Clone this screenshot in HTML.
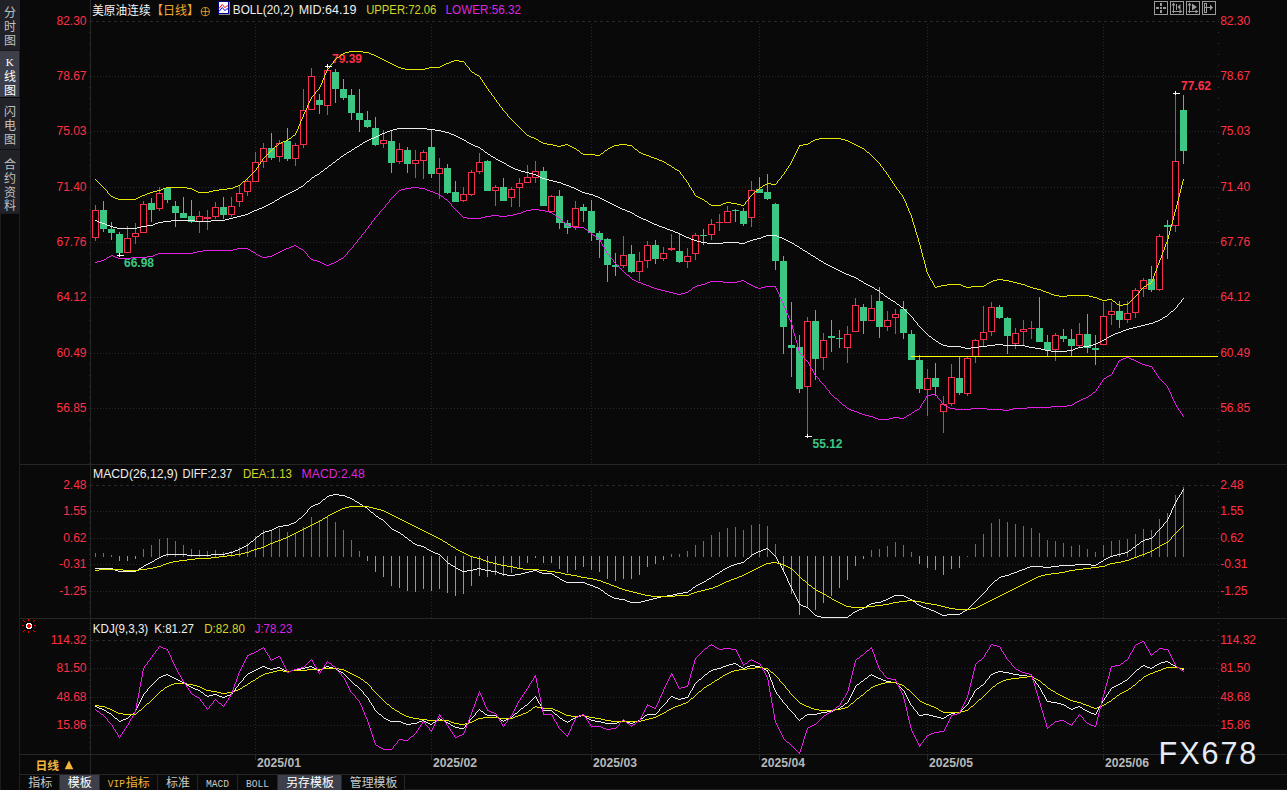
<!DOCTYPE html>
<html><head><meta charset="utf-8"><title>chart</title>
<style>html,body{margin:0;padding:0;background:#090909;}body{width:1287px;height:790px;overflow:hidden;font-family:"Liberation Sans",sans-serif;}svg{display:block;}</style>
</head><body>
<svg width="1287" height="790" viewBox="0 0 1287 790"><rect x="0" y="0" width="1287" height="790" fill="#090909"/>
<g shape-rendering="crispEdges">
<rect x="0" y="0" width="20" height="213" fill="#212228"/>
<rect x="0" y="51" width="19" height="46" fill="#3d3f4b"/>
<rect x="0" y="97" width="20" height="1" fill="#090909"/>
<rect x="0" y="149" width="20" height="1" fill="#121216"/>
<rect x="0" y="50" width="20" height="1" fill="#18181c"/>
<rect x="19" y="213" width="1" height="577" fill="#1e1e1e"/>
<rect x="0" y="213" width="20" height="1" fill="#1c1c1c"/>
<rect x="0" y="214" width="1" height="576" fill="#1c1c1c"/>
<rect x="90" y="0" width="1" height="774" fill="#262626"/>
<rect x="405" y="789" width="882" height="1" fill="#1e1e1e"/>
<rect x="20" y="464" width="1267" height="1" fill="#262626"/>
<rect x="20" y="618" width="1267" height="1" fill="#262626"/>
<rect x="20" y="754" width="1267" height="1" fill="#262626"/>
<rect x="20" y="774" width="1267" height="1" fill="#262626"/>
</g>
<g font-family="Liberation Sans, Noto Sans CJK SC, sans-serif" font-size="12" fill="#c0c0c0" text-anchor="middle">
<text x="10" y="17">分</text>
<text x="10" y="31">时</text>
<text x="10" y="45">图</text>
</g>
<g font-family="Liberation Sans, Noto Sans CJK SC, sans-serif" font-size="12" fill="#ffffff" text-anchor="middle">
<text x="10" y="81">线</text>
<text x="10" y="95">图</text>
</g>
<text x="9.8" y="66" font-family="Liberation Serif, serif" font-size="11" fill="#ffffff" text-anchor="middle">K</text>
<g font-family="Liberation Sans, Noto Sans CJK SC, sans-serif" font-size="12" fill="#c0c0c0" text-anchor="middle">
<text x="10" y="115.5">闪</text>
<text x="10" y="130">电</text>
<text x="10" y="144">图</text>
</g>
<g font-family="Liberation Sans, Noto Sans CJK SC, sans-serif" font-size="12" fill="#c0c0c0" text-anchor="middle">
<text x="10" y="168.5">合</text>
<text x="10" y="182.5">约</text>
<text x="10" y="196.5">资</text>
<text x="10" y="210">料</text>
</g>
<g shape-rendering="crispEdges">
<path d="M90 21.5H1218" stroke="#292929" stroke-dasharray="3 3" fill="none"/>
<path d="M91 76.5H1218" stroke="#292929" stroke-dasharray="1 2" fill="none"/>
<path d="M91 131.5H1218" stroke="#292929" stroke-dasharray="1 2" fill="none"/>
<path d="M91 187.5H1218" stroke="#292929" stroke-dasharray="1 2" fill="none"/>
<path d="M91 242.5H1218" stroke="#292929" stroke-dasharray="1 2" fill="none"/>
<path d="M91 297.5H1218" stroke="#292929" stroke-dasharray="1 2" fill="none"/>
<path d="M91 353.5H1218" stroke="#292929" stroke-dasharray="1 2" fill="none"/>
<path d="M91 408.5H1218" stroke="#292929" stroke-dasharray="1 2" fill="none"/>
<path d="M90 485.5H1218" stroke="#292929" stroke-dasharray="3 3" fill="none"/>
<path d="M91 511.5H1218" stroke="#292929" stroke-dasharray="1 2" fill="none"/>
<path d="M91 538.5H1218" stroke="#292929" stroke-dasharray="1 2" fill="none"/>
<path d="M91 564.5H1218" stroke="#292929" stroke-dasharray="1 2" fill="none"/>
<path d="M91 591.5H1218" stroke="#292929" stroke-dasharray="1 2" fill="none"/>
<path d="M90 640.5H1218" stroke="#292929" stroke-dasharray="3 3" fill="none"/>
<path d="M91 668.5H1218" stroke="#292929" stroke-dasharray="1 2" fill="none"/>
<path d="M91 697.5H1218" stroke="#292929" stroke-dasharray="1 2" fill="none"/>
<path d="M91 725.5H1218" stroke="#292929" stroke-dasharray="1 2" fill="none"/>
<path d="M255.5 24V464" stroke="#292929" stroke-dasharray="1 2" fill="none"/>
<path d="M255.5 488V618" stroke="#292929" stroke-dasharray="1 2" fill="none"/>
<path d="M255.5 643V754" stroke="#292929" stroke-dasharray="1 2" fill="none"/>
<rect x="255" y="754" width="1" height="6" fill="#262626"/>
<path d="M431.5 24V464" stroke="#292929" stroke-dasharray="1 2" fill="none"/>
<path d="M431.5 488V618" stroke="#292929" stroke-dasharray="1 2" fill="none"/>
<path d="M431.5 643V754" stroke="#292929" stroke-dasharray="1 2" fill="none"/>
<rect x="431" y="754" width="1" height="6" fill="#262626"/>
<path d="M591.5 24V464" stroke="#292929" stroke-dasharray="1 2" fill="none"/>
<path d="M591.5 488V618" stroke="#292929" stroke-dasharray="1 2" fill="none"/>
<path d="M591.5 643V754" stroke="#292929" stroke-dasharray="1 2" fill="none"/>
<rect x="591" y="754" width="1" height="6" fill="#262626"/>
<path d="M759.5 24V464" stroke="#292929" stroke-dasharray="1 2" fill="none"/>
<path d="M759.5 488V618" stroke="#292929" stroke-dasharray="1 2" fill="none"/>
<path d="M759.5 643V754" stroke="#292929" stroke-dasharray="1 2" fill="none"/>
<rect x="759" y="754" width="1" height="6" fill="#262626"/>
<path d="M927.5 24V464" stroke="#292929" stroke-dasharray="1 2" fill="none"/>
<path d="M927.5 488V618" stroke="#292929" stroke-dasharray="1 2" fill="none"/>
<path d="M927.5 643V754" stroke="#292929" stroke-dasharray="1 2" fill="none"/>
<rect x="927" y="754" width="1" height="6" fill="#262626"/>
<path d="M1103.5 24V464" stroke="#292929" stroke-dasharray="1 2" fill="none"/>
<path d="M1103.5 488V618" stroke="#292929" stroke-dasharray="1 2" fill="none"/>
<path d="M1103.5 643V754" stroke="#292929" stroke-dasharray="1 2" fill="none"/>
<rect x="1103" y="754" width="1" height="6" fill="#262626"/>
<rect x="1218" y="21" width="1" height="1" fill="#333"/>
<rect x="89" y="21" width="1" height="1" fill="#262626"/>
<rect x="1218" y="32" width="1" height="1" fill="#333"/>
<rect x="89" y="32" width="1" height="1" fill="#262626"/>
<rect x="1218" y="43" width="1" height="1" fill="#333"/>
<rect x="89" y="43" width="1" height="1" fill="#262626"/>
<rect x="1218" y="54" width="1" height="1" fill="#333"/>
<rect x="89" y="54" width="1" height="1" fill="#262626"/>
<rect x="1218" y="65" width="1" height="1" fill="#333"/>
<rect x="89" y="65" width="1" height="1" fill="#262626"/>
<rect x="1218" y="76" width="1" height="1" fill="#333"/>
<rect x="89" y="76" width="1" height="1" fill="#262626"/>
<rect x="1218" y="87" width="1" height="1" fill="#333"/>
<rect x="89" y="87" width="1" height="1" fill="#262626"/>
<rect x="1218" y="98" width="1" height="1" fill="#333"/>
<rect x="89" y="98" width="1" height="1" fill="#262626"/>
<rect x="1218" y="109" width="1" height="1" fill="#333"/>
<rect x="89" y="109" width="1" height="1" fill="#262626"/>
<rect x="1218" y="121" width="1" height="1" fill="#333"/>
<rect x="89" y="121" width="1" height="1" fill="#262626"/>
<rect x="1218" y="132" width="1" height="1" fill="#333"/>
<rect x="89" y="132" width="1" height="1" fill="#262626"/>
<rect x="1218" y="143" width="1" height="1" fill="#333"/>
<rect x="89" y="143" width="1" height="1" fill="#262626"/>
<rect x="1218" y="154" width="1" height="1" fill="#333"/>
<rect x="89" y="154" width="1" height="1" fill="#262626"/>
<rect x="1218" y="165" width="1" height="1" fill="#333"/>
<rect x="89" y="165" width="1" height="1" fill="#262626"/>
<rect x="1218" y="176" width="1" height="1" fill="#333"/>
<rect x="89" y="176" width="1" height="1" fill="#262626"/>
<rect x="1218" y="187" width="1" height="1" fill="#333"/>
<rect x="89" y="187" width="1" height="1" fill="#262626"/>
<rect x="1218" y="198" width="1" height="1" fill="#333"/>
<rect x="89" y="198" width="1" height="1" fill="#262626"/>
<rect x="1218" y="209" width="1" height="1" fill="#333"/>
<rect x="89" y="209" width="1" height="1" fill="#262626"/>
<rect x="1218" y="220" width="1" height="1" fill="#333"/>
<rect x="89" y="220" width="1" height="1" fill="#262626"/>
<rect x="1218" y="231" width="1" height="1" fill="#333"/>
<rect x="89" y="231" width="1" height="1" fill="#262626"/>
<rect x="1218" y="242" width="1" height="1" fill="#333"/>
<rect x="89" y="242" width="1" height="1" fill="#262626"/>
<rect x="1218" y="253" width="1" height="1" fill="#333"/>
<rect x="89" y="253" width="1" height="1" fill="#262626"/>
<rect x="1218" y="264" width="1" height="1" fill="#333"/>
<rect x="89" y="264" width="1" height="1" fill="#262626"/>
<rect x="1218" y="275" width="1" height="1" fill="#333"/>
<rect x="89" y="275" width="1" height="1" fill="#262626"/>
<rect x="1218" y="286" width="1" height="1" fill="#333"/>
<rect x="89" y="286" width="1" height="1" fill="#262626"/>
<rect x="1218" y="297" width="1" height="1" fill="#333"/>
<rect x="89" y="297" width="1" height="1" fill="#262626"/>
<rect x="1218" y="309" width="1" height="1" fill="#333"/>
<rect x="89" y="309" width="1" height="1" fill="#262626"/>
<rect x="1218" y="320" width="1" height="1" fill="#333"/>
<rect x="89" y="320" width="1" height="1" fill="#262626"/>
<rect x="1218" y="331" width="1" height="1" fill="#333"/>
<rect x="89" y="331" width="1" height="1" fill="#262626"/>
<rect x="1218" y="342" width="1" height="1" fill="#333"/>
<rect x="89" y="342" width="1" height="1" fill="#262626"/>
<rect x="1218" y="353" width="1" height="1" fill="#333"/>
<rect x="89" y="353" width="1" height="1" fill="#262626"/>
<rect x="1218" y="364" width="1" height="1" fill="#333"/>
<rect x="89" y="364" width="1" height="1" fill="#262626"/>
<rect x="1218" y="375" width="1" height="1" fill="#333"/>
<rect x="89" y="375" width="1" height="1" fill="#262626"/>
<rect x="1218" y="386" width="1" height="1" fill="#333"/>
<rect x="89" y="386" width="1" height="1" fill="#262626"/>
<rect x="1218" y="397" width="1" height="1" fill="#333"/>
<rect x="89" y="397" width="1" height="1" fill="#262626"/>
<rect x="1218" y="408" width="1" height="1" fill="#333"/>
<rect x="89" y="408" width="1" height="1" fill="#262626"/>
<rect x="1218" y="419" width="1" height="1" fill="#333"/>
<rect x="89" y="419" width="1" height="1" fill="#262626"/>
<rect x="1218" y="430" width="1" height="1" fill="#333"/>
<rect x="89" y="430" width="1" height="1" fill="#262626"/>
<rect x="1218" y="441" width="1" height="1" fill="#333"/>
<rect x="89" y="441" width="1" height="1" fill="#262626"/>
<rect x="1218" y="452" width="1" height="1" fill="#333"/>
<rect x="89" y="452" width="1" height="1" fill="#262626"/>
<rect x="1218" y="463" width="1" height="1" fill="#333"/>
<rect x="89" y="463" width="1" height="1" fill="#262626"/>
<rect x="1218" y="485" width="1" height="1" fill="#333"/>
<rect x="89" y="485" width="1" height="1" fill="#262626"/>
<rect x="1218" y="491" width="1" height="1" fill="#333"/>
<rect x="89" y="491" width="1" height="1" fill="#262626"/>
<rect x="1218" y="496" width="1" height="1" fill="#333"/>
<rect x="89" y="496" width="1" height="1" fill="#262626"/>
<rect x="1218" y="501" width="1" height="1" fill="#333"/>
<rect x="89" y="501" width="1" height="1" fill="#262626"/>
<rect x="1218" y="507" width="1" height="1" fill="#333"/>
<rect x="89" y="507" width="1" height="1" fill="#262626"/>
<rect x="1218" y="512" width="1" height="1" fill="#333"/>
<rect x="89" y="512" width="1" height="1" fill="#262626"/>
<rect x="1218" y="517" width="1" height="1" fill="#333"/>
<rect x="89" y="517" width="1" height="1" fill="#262626"/>
<rect x="1218" y="522" width="1" height="1" fill="#333"/>
<rect x="89" y="522" width="1" height="1" fill="#262626"/>
<rect x="1218" y="528" width="1" height="1" fill="#333"/>
<rect x="89" y="528" width="1" height="1" fill="#262626"/>
<rect x="1218" y="533" width="1" height="1" fill="#333"/>
<rect x="89" y="533" width="1" height="1" fill="#262626"/>
<rect x="1218" y="538" width="1" height="1" fill="#333"/>
<rect x="89" y="538" width="1" height="1" fill="#262626"/>
<rect x="1218" y="544" width="1" height="1" fill="#333"/>
<rect x="89" y="544" width="1" height="1" fill="#262626"/>
<rect x="1218" y="549" width="1" height="1" fill="#333"/>
<rect x="89" y="549" width="1" height="1" fill="#262626"/>
<rect x="1218" y="554" width="1" height="1" fill="#333"/>
<rect x="89" y="554" width="1" height="1" fill="#262626"/>
<rect x="1218" y="559" width="1" height="1" fill="#333"/>
<rect x="89" y="559" width="1" height="1" fill="#262626"/>
<rect x="1218" y="565" width="1" height="1" fill="#333"/>
<rect x="89" y="565" width="1" height="1" fill="#262626"/>
<rect x="1218" y="570" width="1" height="1" fill="#333"/>
<rect x="89" y="570" width="1" height="1" fill="#262626"/>
<rect x="1218" y="575" width="1" height="1" fill="#333"/>
<rect x="89" y="575" width="1" height="1" fill="#262626"/>
<rect x="1218" y="581" width="1" height="1" fill="#333"/>
<rect x="89" y="581" width="1" height="1" fill="#262626"/>
<rect x="1218" y="586" width="1" height="1" fill="#333"/>
<rect x="89" y="586" width="1" height="1" fill="#262626"/>
<rect x="1218" y="591" width="1" height="1" fill="#333"/>
<rect x="89" y="591" width="1" height="1" fill="#262626"/>
<rect x="1218" y="596" width="1" height="1" fill="#333"/>
<rect x="89" y="596" width="1" height="1" fill="#262626"/>
<rect x="1218" y="602" width="1" height="1" fill="#333"/>
<rect x="89" y="602" width="1" height="1" fill="#262626"/>
<rect x="1218" y="607" width="1" height="1" fill="#333"/>
<rect x="89" y="607" width="1" height="1" fill="#262626"/>
<rect x="1218" y="612" width="1" height="1" fill="#333"/>
<rect x="89" y="612" width="1" height="1" fill="#262626"/>
<rect x="1218" y="623" width="1" height="1" fill="#333"/>
<rect x="89" y="623" width="1" height="1" fill="#262626"/>
<rect x="1218" y="629" width="1" height="1" fill="#333"/>
<rect x="89" y="629" width="1" height="1" fill="#262626"/>
<rect x="1218" y="635" width="1" height="1" fill="#333"/>
<rect x="89" y="635" width="1" height="1" fill="#262626"/>
<rect x="1218" y="640" width="1" height="1" fill="#333"/>
<rect x="89" y="640" width="1" height="1" fill="#262626"/>
<rect x="1218" y="646" width="1" height="1" fill="#333"/>
<rect x="89" y="646" width="1" height="1" fill="#262626"/>
<rect x="1218" y="652" width="1" height="1" fill="#333"/>
<rect x="89" y="652" width="1" height="1" fill="#262626"/>
<rect x="1218" y="657" width="1" height="1" fill="#333"/>
<rect x="89" y="657" width="1" height="1" fill="#262626"/>
<rect x="1218" y="663" width="1" height="1" fill="#333"/>
<rect x="89" y="663" width="1" height="1" fill="#262626"/>
<rect x="1218" y="669" width="1" height="1" fill="#333"/>
<rect x="89" y="669" width="1" height="1" fill="#262626"/>
<rect x="1218" y="674" width="1" height="1" fill="#333"/>
<rect x="89" y="674" width="1" height="1" fill="#262626"/>
<rect x="1218" y="680" width="1" height="1" fill="#333"/>
<rect x="89" y="680" width="1" height="1" fill="#262626"/>
<rect x="1218" y="686" width="1" height="1" fill="#333"/>
<rect x="89" y="686" width="1" height="1" fill="#262626"/>
<rect x="1218" y="691" width="1" height="1" fill="#333"/>
<rect x="89" y="691" width="1" height="1" fill="#262626"/>
<rect x="1218" y="697" width="1" height="1" fill="#333"/>
<rect x="89" y="697" width="1" height="1" fill="#262626"/>
<rect x="1218" y="703" width="1" height="1" fill="#333"/>
<rect x="89" y="703" width="1" height="1" fill="#262626"/>
<rect x="1218" y="708" width="1" height="1" fill="#333"/>
<rect x="89" y="708" width="1" height="1" fill="#262626"/>
<rect x="1218" y="714" width="1" height="1" fill="#333"/>
<rect x="89" y="714" width="1" height="1" fill="#262626"/>
<rect x="1218" y="720" width="1" height="1" fill="#333"/>
<rect x="89" y="720" width="1" height="1" fill="#262626"/>
<rect x="1218" y="725" width="1" height="1" fill="#333"/>
<rect x="89" y="725" width="1" height="1" fill="#262626"/>
<rect x="1218" y="731" width="1" height="1" fill="#333"/>
<rect x="89" y="731" width="1" height="1" fill="#262626"/>
<rect x="1218" y="737" width="1" height="1" fill="#333"/>
<rect x="89" y="737" width="1" height="1" fill="#262626"/>
<rect x="1218" y="742" width="1" height="1" fill="#333"/>
<rect x="89" y="742" width="1" height="1" fill="#262626"/>
<rect x="1218" y="748" width="1" height="1" fill="#333"/>
<rect x="89" y="748" width="1" height="1" fill="#262626"/>
</g>
<g font-family="Liberation Sans, sans-serif" font-size="12" fill="#ff3046">
<text x="86.5" y="24.7" text-anchor="end">82.30</text>
<text x="1220.2" y="24.7">82.30</text>
<text x="86.5" y="79.7" text-anchor="end">78.67</text>
<text x="1220.2" y="79.7">78.67</text>
<text x="86.5" y="134.7" text-anchor="end">75.03</text>
<text x="1220.2" y="134.7">75.03</text>
<text x="86.5" y="190.7" text-anchor="end">71.40</text>
<text x="1220.2" y="190.7">71.40</text>
<text x="86.5" y="245.7" text-anchor="end">67.76</text>
<text x="1220.2" y="245.7">67.76</text>
<text x="86.5" y="300.7" text-anchor="end">64.12</text>
<text x="1220.2" y="300.7">64.12</text>
<text x="86.5" y="356.7" text-anchor="end">60.49</text>
<text x="1220.2" y="356.7">60.49</text>
<text x="86.5" y="411.7" text-anchor="end">56.85</text>
<text x="1220.2" y="411.7">56.85</text>
<text x="86.5" y="488.7" text-anchor="end">2.48</text>
<text x="1220.2" y="488.7">2.48</text>
<text x="86.5" y="514.7" text-anchor="end">1.55</text>
<text x="1220.2" y="514.7">1.55</text>
<text x="86.5" y="541.7" text-anchor="end">0.62</text>
<text x="1220.2" y="541.7">0.62</text>
<text x="86.5" y="567.7" text-anchor="end">-0.31</text>
<text x="1220.2" y="567.7">-0.31</text>
<text x="86.5" y="594.7" text-anchor="end">-1.25</text>
<text x="1220.2" y="594.7">-1.25</text>
<text x="86.5" y="643.7" text-anchor="end">114.32</text>
<text x="1220.2" y="643.7">114.32</text>
<text x="86.5" y="671.7" text-anchor="end">81.50</text>
<text x="1220.2" y="671.7">81.50</text>
<text x="86.5" y="700.7" text-anchor="end">48.68</text>
<text x="1220.2" y="700.7">48.68</text>
<text x="86.5" y="728.7" text-anchor="end">15.86</text>
<text x="1220.2" y="728.7">15.86</text>
</g>
<g shape-rendering="crispEdges">
<path d="M95 205h1v36h-1zM127 226h1v27h-1zM135 223h1v21h-1zM143 201h1v32h-1zM159 187h1v24h-1zM199 211h1v22h-1zM207 210h1v20h-1zM215 202h1v17h-1zM231 197h1v20h-1zM239 186h1v21h-1zM247 178h1v18h-1zM255 152h1v30h-1zM263 143h1v25h-1zM279 140h1v22h-1zM295 143h1v23h-1zM303 89h1v59h-1zM311 68h1v42h-1zM327 66h1v49h-1zM383 130h1v18h-1zM399 143h1v21h-1zM415 150h1v28h-1zM423 150h1v29h-1zM439 158h1v41h-1zM463 187h1v15h-1zM471 170h1v26h-1zM479 153h1v21h-1zM495 185h1v21h-1zM511 187h1v20h-1zM519 178h1v29h-1zM527 165h1v18h-1zM535 161h1v22h-1zM551 195h1v17h-1zM575 201h1v29h-1zM623 236h1v32h-1zM639 252h1v29h-1zM647 241h1v27h-1zM663 247h1v14h-1zM671 234h1v17h-1zM687 248h1v20h-1zM695 233h1v27h-1zM711 219h1v21h-1zM719 214h1v17h-1zM727 206h1v17h-1zM751 181h1v46h-1zM807 317h1v119h-1zM823 333h1v37h-1zM847 326h1v37h-1zM855 298h1v34h-1zM871 295h1v26h-1zM887 311h1v20h-1zM895 309h1v25h-1zM927 369h1v47h-1zM943 396h1v37h-1zM951 364h1v42h-1zM967 357h1v39h-1zM975 339h1v24h-1zM983 306h1v40h-1zM991 302h1v34h-1zM1015 328h1v21h-1zM1023 320h1v26h-1zM1031 321h1v18h-1zM1055 333h1v28h-1zM1079 323h1v24h-1zM1103 302h1v43h-1zM1111 302h1v23h-1zM1127 301h1v22h-1zM1135 288h1v30h-1zM1143 278h1v19h-1zM1159 234h1v57h-1zM1175 93h1v139h-1z" fill="#f5304e"/>
<path d="M103 201h1v31h-1zM111 222h1v18h-1zM119 232h1v22h-1zM151 198h1v24h-1zM167 187h1v16h-1zM175 201h1v26h-1zM183 197h1v21h-1zM191 200h1v23h-1zM223 197h1v22h-1zM271 133h1v27h-1zM287 128h1v33h-1zM319 94h1v20h-1zM335 69h1v34h-1zM343 79h1v21h-1zM351 89h1v31h-1zM359 89h1v43h-1zM367 111h1v17h-1zM375 117h1v29h-1zM391 130h1v43h-1zM407 147h1v26h-1zM431 130h1v48h-1zM447 164h1v30h-1zM455 181h1v21h-1zM487 160h1v31h-1zM503 178h1v23h-1zM543 167h1v39h-1zM559 190h1v39h-1zM567 220h1v14h-1zM583 204h1v18h-1zM591 200h1v41h-1zM599 231h1v27h-1zM607 238h1v44h-1zM615 253h1v23h-1zM631 245h1v28h-1zM655 240h1v24h-1zM679 233h1v30h-1zM703 229h1v16h-1zM735 209h1v13h-1zM743 208h1v18h-1zM759 177h1v16h-1zM767 174h1v26h-1zM775 203h1v67h-1zM783 256h1v98h-1zM791 302h1v75h-1zM799 335h1v58h-1zM815 310h1v70h-1zM831 320h1v32h-1zM839 330h1v18h-1zM863 304h1v30h-1zM879 287h1v51h-1zM903 301h1v38h-1zM911 330h1v30h-1zM919 355h1v38h-1zM935 363h1v33h-1zM959 357h1v38h-1zM999 305h1v14h-1zM1007 317h1v37h-1zM1039 297h1v45h-1zM1047 335h1v21h-1zM1063 329h1v13h-1zM1071 329h1v27h-1zM1087 314h1v39h-1zM1095 335h1v30h-1zM1119 301h1v27h-1zM1151 266h1v26h-1zM1167 220h1v39h-1zM1183 95h1v69h-1z" fill="#3cc884"/>
<path d="M92 210h7v28h-7zM124 238h7v15h-7zM132 233h7v4h-7zM140 204h7v29h-7zM156 193h7v16h-7zM196 216h7v6h-7zM204 217h7v2h-7zM212 207h7v10h-7zM228 206h7v9h-7zM236 193h7v9h-7zM244 181h7v11h-7zM252 162h7v20h-7zM260 148h7v14h-7zM276 143h7v14h-7zM292 145h7v14h-7zM300 110h7v35h-7zM308 76h7v34h-7zM324 70h7v36h-7zM380 140h7v4h-7zM396 149h7v13h-7zM412 160h7v4h-7zM420 152h7v9h-7zM436 168h7v6h-7zM460 194h7v7h-7zM468 172h7v23h-7zM476 162h7v10h-7zM492 187h7v4h-7zM508 189h7v9h-7zM516 183h7v5h-7zM524 177h7v6h-7zM532 171h7v7h-7zM548 196h7v16h-7zM572 208h7v19h-7zM620 255h7v11h-7zM636 261h7v11h-7zM644 245h7v16h-7zM660 253h7v6h-7zM668 248h7v2h-7zM684 256h7v6h-7zM692 235h7v19h-7zM708 224h7v11h-7zM716 222h7v1h-7zM724 211h7v12h-7zM748 190h7v28h-7zM804 321h7v66h-7zM820 340h7v18h-7zM844 334h7v14h-7zM852 305h7v27h-7zM868 308h7v13h-7zM884 320h7v7h-7zM892 314h7v4h-7zM924 378h7v12h-7zM940 404h7v8h-7zM948 377h7v27h-7zM964 358h7v36h-7zM972 340h7v17h-7zM980 332h7v8h-7zM988 307h7v25h-7zM1012 333h7v11h-7zM1020 329h7v3h-7zM1028 328h7v1h-7zM1052 335h7v15h-7zM1076 334h7v12h-7zM1100 316h7v29h-7zM1108 311h7v4h-7zM1124 313h7v7h-7zM1132 290h7v23h-7zM1140 280h7v9h-7zM1156 236h7v54h-7zM1172 161h7v65h-7z" fill="#f5304e"/>
<path d="M93 211h5v26h-5zM125 239h5v13h-5zM133 234h5v2h-5zM141 205h5v27h-5zM157 194h5v14h-5zM197 217h5v4h-5zM213 208h5v8h-5zM229 207h5v7h-5zM237 194h5v7h-5zM245 182h5v9h-5zM253 163h5v18h-5zM261 149h5v12h-5zM277 144h5v12h-5zM293 146h5v12h-5zM301 111h5v33h-5zM309 77h5v32h-5zM325 71h5v34h-5zM381 141h5v2h-5zM397 150h5v11h-5zM413 161h5v2h-5zM421 153h5v7h-5zM437 169h5v4h-5zM461 195h5v5h-5zM469 173h5v21h-5zM477 163h5v8h-5zM493 188h5v2h-5zM509 190h5v7h-5zM517 184h5v3h-5zM525 178h5v4h-5zM533 172h5v5h-5zM549 197h5v14h-5zM573 209h5v17h-5zM621 256h5v9h-5zM637 262h5v9h-5zM645 246h5v14h-5zM661 254h5v4h-5zM685 257h5v4h-5zM693 236h5v17h-5zM709 225h5v9h-5zM725 212h5v10h-5zM749 191h5v26h-5zM805 322h5v64h-5zM821 341h5v16h-5zM845 335h5v12h-5zM853 306h5v25h-5zM869 309h5v11h-5zM885 321h5v5h-5zM893 315h5v2h-5zM925 379h5v10h-5zM941 405h5v6h-5zM949 378h5v25h-5zM965 359h5v34h-5zM973 341h5v15h-5zM981 333h5v6h-5zM989 308h5v23h-5zM1013 334h5v9h-5zM1021 330h5v1h-5zM1053 336h5v13h-5zM1077 335h5v10h-5zM1101 317h5v27h-5zM1109 312h5v2h-5zM1125 314h5v5h-5zM1133 291h5v21h-5zM1141 281h5v7h-5zM1157 237h5v52h-5zM1173 162h5v63h-5z" fill="#000"/>
<path d="M100 210h7v19h-7zM108 229h7v4h-7zM116 234h7v19h-7zM148 203h7v7h-7zM164 188h7v12h-7zM172 206h7v7h-7zM180 213h7v5h-7zM188 216h7v6h-7zM220 207h7v8h-7zM268 148h7v10h-7zM284 141h7v18h-7zM316 100h7v5h-7zM332 72h7v17h-7zM340 89h7v9h-7zM348 95h7v18h-7zM356 113h7v7h-7zM364 120h7v7h-7zM372 128h7v17h-7zM388 141h7v22h-7zM404 150h7v14h-7zM428 147h7v27h-7zM444 168h7v25h-7zM452 192h7v10h-7zM484 161h7v30h-7zM500 187h7v14h-7zM540 171h7v35h-7zM556 196h7v27h-7zM564 223h7v5h-7zM580 207h7v4h-7zM588 211h7v22h-7zM596 233h7v7h-7zM604 239h7v26h-7zM612 265h7v2h-7zM628 254h7v18h-7zM652 245h7v14h-7zM676 251h7v11h-7zM700 235h7v1h-7zM732 210h7v1h-7zM740 211h7v13h-7zM756 189h7v4h-7zM764 192h7v7h-7zM772 204h7v57h-7zM780 261h7v66h-7zM788 345h7v3h-7zM796 347h7v42h-7zM812 321h7v38h-7zM828 336h7v2h-7zM836 338h7v1h-7zM860 307h7v14h-7zM876 301h7v26h-7zM900 309h7v24h-7zM908 334h7v26h-7zM916 360h7v29h-7zM932 378h7v9h-7zM956 378h7v15h-7zM996 307h7v11h-7zM1004 318h7v18h-7zM1036 328h7v14h-7zM1044 342h7v8h-7zM1060 336h7v3h-7zM1068 339h7v7h-7zM1084 334h7v14h-7zM1092 348h7v2h-7zM1116 311h7v9h-7zM1148 279h7v11h-7zM1164 225h7v2h-7zM1180 110h7v41h-7z" fill="#3cc884"/>
<path d="M95 553h1v4h-1zM103 553h1v4h-1zM111 555h1v2h-1zM143 549h1v8h-1zM151 545h1v12h-1zM159 539h1v18h-1zM167 538h1v19h-1zM175 541h1v16h-1zM183 545h1v12h-1zM191 549h1v8h-1zM199 550h1v7h-1zM207 551h1v6h-1zM215 550h1v7h-1zM223 552h1v5h-1zM231 551h1v6h-1zM239 547h1v10h-1zM247 543h1v14h-1zM255 536h1v21h-1zM263 530h1v27h-1zM271 530h1v27h-1zM279 528h1v29h-1zM287 532h1v25h-1zM295 533h1v24h-1zM303 527h1v30h-1zM311 517h1v40h-1zM319 520h1v37h-1zM327 517h1v40h-1zM335 522h1v35h-1zM343 530h1v27h-1zM351 540h1v17h-1zM359 551h1v6h-1zM671 554h1v3h-1zM679 554h1v3h-1zM687 551h1v6h-1zM695 545h1v12h-1zM703 541h1v16h-1zM711 535h1v22h-1zM719 532h1v25h-1zM727 528h1v29h-1zM735 527h1v30h-1zM743 530h1v27h-1zM751 525h1v32h-1zM759 524h1v33h-1zM767 526h1v31h-1zM775 544h1v13h-1zM871 550h1v7h-1zM879 549h1v8h-1zM887 546h1v11h-1zM895 542h1v15h-1zM903 545h1v12h-1zM911 552h1v5h-1zM967 556h1v1h-1zM975 544h1v13h-1zM983 534h1v23h-1zM991 523h1v34h-1zM999 519h1v38h-1zM1007 522h1v35h-1zM1015 524h1v33h-1zM1023 526h1v31h-1zM1031 528h1v29h-1zM1039 533h1v24h-1zM1047 540h1v17h-1zM1055 541h1v16h-1zM1063 543h1v14h-1zM1071 546h1v11h-1zM1079 545h1v12h-1zM1087 549h1v8h-1zM1095 552h1v5h-1zM1103 545h1v12h-1zM1111 541h1v16h-1zM1119 540h1v17h-1zM1127 539h1v18h-1zM1135 534h1v23h-1zM1143 529h1v28h-1zM1151 530h1v27h-1zM1159 519h1v38h-1zM1167 513h1v44h-1zM1175 495h1v62h-1zM1183 487h1v70h-1z" fill="#f5304e"/>
<path d="M119 556h1v5h-1zM127 556h1v5h-1zM135 556h1v3h-1zM367 556h1v5h-1zM375 556h1v16h-1zM383 556h1v21h-1zM391 556h1v30h-1zM399 556h1v32h-1zM407 556h1v35h-1zM415 556h1v36h-1zM423 556h1v33h-1zM431 556h1v35h-1zM439 556h1v33h-1zM447 556h1v37h-1zM455 556h1v40h-1zM463 556h1v38h-1zM471 556h1v30h-1zM479 556h1v20h-1zM487 556h1v21h-1zM495 556h1v19h-1zM503 556h1v20h-1zM511 556h1v17h-1zM519 556h1v12h-1zM527 556h1v7h-1zM535 556h1v2h-1zM543 556h1v7h-1zM551 556h1v7h-1zM559 556h1v13h-1zM567 556h1v17h-1zM575 556h1v14h-1zM583 556h1v11h-1zM591 556h1v14h-1zM599 556h1v16h-1zM607 556h1v23h-1zM615 556h1v25h-1zM623 556h1v23h-1zM631 556h1v23h-1zM639 556h1v19h-1zM647 556h1v11h-1zM655 556h1v8h-1zM663 556h1v4h-1zM783 556h1v16h-1zM791 556h1v38h-1zM799 556h1v59h-1zM807 556h1v52h-1zM815 556h1v54h-1zM823 556h1v47h-1zM831 556h1v40h-1zM839 556h1v32h-1zM847 556h1v24h-1zM855 556h1v10h-1zM863 556h1v3h-1zM919 556h1v8h-1zM927 556h1v12h-1zM935 556h1v14h-1zM943 556h1v19h-1zM951 556h1v13h-1zM959 556h1v12h-1z" fill="#3cc884"/>
</g>
<g font-family="Liberation Sans, sans-serif" font-size="12" font-weight="bold">
<text x="124" y="267" fill="#3cc884">66.98</text>
<text x="332" y="63" fill="#ff3046">79.39</text>
<text x="812.5" y="448" fill="#3cc884">55.12</text>
<text x="1181" y="90" fill="#ff3046">77.62</text>
</g>
<g shape-rendering="crispEdges">
<path d="M913 318h1v2h-1zM917 323h1v2h-1zM1177 305h1v2h-1zM1181 300h1v2h-1zM95 220h2v1h-2zM171 220h24v1h-24zM211 220h14v1h-14zM646 220h2v1h-2zM97 221h2v1h-2zM163 221h8v1h-8zM195 221h16v1h-16zM648 221h2v1h-2zM99 222h3v1h-3zM158 222h5v1h-5zM650 222h2v1h-2zM102 223h3v1h-3zM155 223h3v1h-3zM652 223h2v1h-2zM105 224h2v1h-2zM153 224h2v1h-2zM654 224h3v1h-3zM107 225h3v1h-3zM147 225h6v1h-6zM657 225h2v1h-2zM110 226h3v1h-3zM141 226h6v1h-6zM659 226h3v1h-3zM113 227h4v1h-4zM137 227h4v1h-4zM662 227h3v1h-3zM117 228h20v1h-20zM665 228h2v1h-2zM225 219h4v1h-4zM643 219h3v1h-3zM229 218h4v1h-4zM641 218h2v1h-2zM233 217h4v1h-4zM639 217h2v1h-2zM237 216h4v1h-4zM637 216h2v1h-2zM241 215h4v1h-4zM635 215h2v1h-2zM245 214h3v1h-3zM634 214h1v1h-1zM248 213h2v1h-2zM632 213h2v1h-2zM250 212h2v1h-2zM630 212h2v1h-2zM252 211h2v1h-2zM627 211h3v1h-3zM254 210h3v1h-3zM625 210h2v1h-2zM257 209h2v1h-2zM622 209h3v1h-3zM259 208h3v1h-3zM620 208h2v1h-2zM262 207h2v1h-2zM618 207h2v1h-2zM264 206h2v1h-2zM616 206h2v1h-2zM266 205h2v1h-2zM614 205h2v1h-2zM268 204h2v1h-2zM612 204h2v1h-2zM270 203h2v1h-2zM610 203h2v1h-2zM272 202h2v1h-2zM608 202h2v1h-2zM274 201h1v1h-1zM606 201h2v1h-2zM275 200h2v1h-2zM604 200h2v1h-2zM277 199h2v1h-2zM602 199h2v1h-2zM279 198h1v1h-1zM600 198h2v1h-2zM280 197h2v1h-2zM598 197h2v1h-2zM282 196h2v1h-2zM595 196h3v1h-3zM284 195h2v1h-2zM593 195h2v1h-2zM286 194h2v1h-2zM589 194h4v1h-4zM288 193h2v1h-2zM585 193h4v1h-4zM290 192h2v1h-2zM582 192h3v1h-3zM292 191h2v1h-2zM580 191h2v1h-2zM294 190h2v1h-2zM578 190h2v1h-2zM296 189h2v1h-2zM576 189h2v1h-2zM298 188h1v1h-1zM574 188h2v1h-2zM299 187h2v1h-2zM571 187h3v1h-3zM301 186h2v1h-2zM569 186h2v1h-2zM303 185h1v1h-1zM566 185h3v1h-3zM304 184h1v1h-1zM563 184h3v1h-3zM305 183h1v1h-1zM561 183h2v1h-2zM306 182h1v1h-1zM557 182h4v1h-4zM307 181h2v1h-2zM553 181h4v1h-4zM309 180h1v1h-1zM549 180h4v1h-4zM310 179h1v1h-1zM545 179h4v1h-4zM311 178h1v1h-1zM542 178h3v1h-3zM312 177h2v1h-2zM540 177h2v1h-2zM314 176h1v1h-1zM538 176h2v1h-2zM315 175h2v1h-2zM536 175h2v1h-2zM317 174h2v1h-2zM533 174h3v1h-3zM319 173h1v1h-1zM529 173h4v1h-4zM320 172h1v1h-1zM525 172h4v1h-4zM321 171h2v1h-2zM521 171h4v1h-4zM323 170h1v1h-1zM518 170h3v1h-3zM324 169h1v1h-1zM515 169h3v1h-3zM325 168h2v1h-2zM513 168h2v1h-2zM327 167h1v1h-1zM511 167h2v1h-2zM328 166h1v1h-1zM509 166h2v1h-2zM329 165h2v1h-2zM507 165h2v1h-2zM331 164h1v1h-1zM506 164h1v1h-1zM332 163h1v1h-1zM504 163h2v1h-2zM333 162h2v1h-2zM502 162h2v1h-2zM335 161h1v1h-1zM500 161h2v1h-2zM336 160h1v1h-1zM498 160h2v1h-2zM337 159h2v1h-2zM496 159h2v1h-2zM339 158h1v1h-1zM495 158h1v1h-1zM340 157h1v1h-1zM493 157h2v1h-2zM341 156h2v1h-2zM491 156h2v1h-2zM343 155h1v1h-1zM490 155h1v1h-1zM344 154h2v1h-2zM488 154h2v1h-2zM346 153h1v1h-1zM487 153h1v1h-1zM347 152h2v1h-2zM485 152h2v1h-2zM349 151h2v1h-2zM484 151h1v1h-1zM351 150h1v1h-1zM483 150h1v1h-1zM352 149h2v1h-2zM481 149h2v1h-2zM354 148h1v1h-1zM480 148h1v1h-1zM355 147h2v1h-2zM478 147h2v1h-2zM357 146h2v1h-2zM475 146h3v1h-3zM359 145h1v1h-1zM473 145h2v1h-2zM360 144h2v1h-2zM471 144h2v1h-2zM362 143h1v1h-1zM469 143h2v1h-2zM363 142h2v1h-2zM467 142h2v1h-2zM365 141h2v1h-2zM466 141h1v1h-1zM367 140h2v1h-2zM464 140h2v1h-2zM369 139h2v1h-2zM462 139h2v1h-2zM371 138h3v1h-3zM460 138h2v1h-2zM374 137h2v1h-2zM458 137h2v1h-2zM376 136h2v1h-2zM456 136h2v1h-2zM378 135h2v1h-2zM454 135h2v1h-2zM380 134h2v1h-2zM451 134h3v1h-3zM382 133h3v1h-3zM449 133h2v1h-2zM385 132h2v1h-2zM445 132h4v1h-4zM387 131h3v1h-3zM441 131h4v1h-4zM390 130h3v1h-3zM435 130h6v1h-6zM393 129h4v1h-4zM427 129h8v1h-8zM397 128h30v1h-30zM667 229h3v1h-3zM670 230h3v1h-3zM673 231h2v1h-2zM675 232h3v1h-3zM678 233h2v1h-2zM680 234h2v1h-2zM682 235h2v1h-2zM766 235h11v1h-11zM684 236h2v1h-2zM763 236h3v1h-3zM777 236h2v1h-2zM686 237h3v1h-3zM761 237h2v1h-2zM779 237h3v1h-3zM689 238h2v1h-2zM757 238h4v1h-4zM782 238h2v1h-2zM691 239h3v1h-3zM753 239h4v1h-4zM784 239h2v1h-2zM694 240h3v1h-3zM750 240h3v1h-3zM786 240h2v1h-2zM697 241h4v1h-4zM747 241h3v1h-3zM788 241h2v1h-2zM701 242h6v1h-6zM723 242h16v1h-16zM745 242h2v1h-2zM790 242h2v1h-2zM707 243h16v1h-16zM739 243h6v1h-6zM792 243h2v1h-2zM794 244h1v1h-1zM795 245h2v1h-2zM797 246h2v1h-2zM799 247h1v1h-1zM800 248h2v1h-2zM802 249h1v1h-1zM803 250h2v1h-2zM805 251h2v1h-2zM807 252h1v1h-1zM808 253h2v1h-2zM810 254h1v1h-1zM811 255h2v1h-2zM813 256h2v1h-2zM815 257h1v1h-1zM816 258h2v1h-2zM818 259h1v1h-1zM819 260h2v1h-2zM821 261h2v1h-2zM823 262h1v1h-1zM824 263h2v1h-2zM826 264h2v1h-2zM828 265h2v1h-2zM830 266h2v1h-2zM832 267h2v1h-2zM834 268h2v1h-2zM836 269h2v1h-2zM838 270h2v1h-2zM840 271h2v1h-2zM842 272h2v1h-2zM844 273h2v1h-2zM846 274h3v1h-3zM849 275h2v1h-2zM851 276h3v1h-3zM854 277h2v1h-2zM856 278h2v1h-2zM858 279h1v1h-1zM859 280h2v1h-2zM861 281h2v1h-2zM863 282h1v1h-1zM864 283h2v1h-2zM866 284h2v1h-2zM868 285h2v1h-2zM870 286h2v1h-2zM872 287h2v1h-2zM874 288h1v1h-1zM875 289h2v1h-2zM877 290h2v1h-2zM879 291h1v1h-1zM880 292h1v1h-1zM881 293h2v1h-2zM883 294h1v1h-1zM884 295h1v1h-1zM885 296h2v1h-2zM887 297h1v1h-1zM888 298h2v1h-2zM1183 298h1v1h-1zM890 299h1v1h-1zM1182 299h1v1h-1zM891 300h2v1h-2zM893 301h2v1h-2zM895 302h1v1h-1zM1180 302h1v1h-1zM896 303h1v1h-1zM1179 303h1v1h-1zM897 304h2v1h-2zM1178 304h1v1h-1zM899 305h1v1h-1zM900 306h1v1h-1zM901 307h2v1h-2zM1176 307h1v1h-1zM903 308h1v1h-1zM1175 308h1v1h-1zM904 309h1v1h-1zM1174 309h1v1h-1zM905 310h1v1h-1zM1173 310h1v1h-1zM906 311h1v1h-1zM1171 311h2v1h-2zM907 312h1v1h-1zM1170 312h1v1h-1zM908 313h1v1h-1zM1169 313h1v1h-1zM909 314h1v1h-1zM1168 314h1v1h-1zM910 315h1v1h-1zM1167 315h1v1h-1zM911 316h1v1h-1zM1165 316h2v1h-2zM912 317h1v1h-1zM1163 317h2v1h-2zM914 320h1v1h-1zM1158 320h2v1h-2zM915 321h1v1h-1zM1155 321h3v1h-3zM916 322h1v1h-1zM1153 322h2v1h-2zM918 325h1v1h-1zM1141 325h4v1h-4zM919 326h1v1h-1zM1137 326h4v1h-4zM920 327h1v1h-1zM1133 327h4v1h-4zM921 328h1v1h-1zM1129 328h4v1h-4zM922 329h1v1h-1zM1126 329h3v1h-3zM923 330h1v1h-1zM1123 330h3v1h-3zM924 331h1v1h-1zM1121 331h2v1h-2zM925 332h1v1h-1zM1118 332h3v1h-3zM926 333h1v1h-1zM1115 333h3v1h-3zM927 334h1v1h-1zM1113 334h2v1h-2zM928 335h1v1h-1zM1111 335h2v1h-2zM929 336h2v1h-2zM1109 336h2v1h-2zM931 337h1v1h-1zM1107 337h2v1h-2zM932 338h1v1h-1zM1106 338h1v1h-1zM933 339h2v1h-2zM1104 339h2v1h-2zM935 340h1v1h-1zM1102 340h2v1h-2zM936 341h2v1h-2zM1100 341h2v1h-2zM938 342h1v1h-1zM1098 342h2v1h-2zM939 343h2v1h-2zM1096 343h2v1h-2zM941 344h2v1h-2zM995 344h8v1h-8zM1093 344h3v1h-3zM943 345h4v1h-4zM987 345h8v1h-8zM1003 345h22v1h-22zM1089 345h4v1h-4zM947 346h14v1h-14zM979 346h8v1h-8zM1025 346h4v1h-4zM1083 346h6v1h-6zM961 347h4v1h-4zM971 347h8v1h-8zM1029 347h6v1h-6zM1078 347h5v1h-5zM965 348h6v1h-6zM1035 348h6v1h-6zM1075 348h3v1h-3zM1041 349h4v1h-4zM1073 349h2v1h-2zM1045 350h6v1h-6zM1067 350h6v1h-6zM1051 351h16v1h-16zM1145 324h4v1h-4zM1149 323h4v1h-4zM1160 319h2v1h-2zM1162 318h1v1h-1z" fill="#ececec"/>
<path d="M107 191h1v2h-1zM256 168h1v2h-1zM258 165h1v2h-1zM260 162h1v2h-1zM262 159h1v2h-1zM295 133h1v2h-1zM296 131h1v2h-1zM297 129h1v2h-1zM298 126h1v3h-1zM299 124h1v2h-1zM300 121h1v3h-1zM301 119h1v2h-1zM302 117h1v2h-1zM303 114h1v3h-1zM304 112h1v2h-1zM305 110h1v2h-1zM306 108h1v2h-1zM307 105h1v3h-1zM308 103h1v2h-1zM309 101h1v2h-1zM310 99h1v2h-1zM311 97h1v2h-1zM315 92h1v2h-1zM319 87h1v2h-1zM320 85h1v2h-1zM321 83h1v2h-1zM322 80h1v3h-1zM323 78h1v2h-1zM324 75h1v3h-1zM325 73h1v2h-1zM326 71h1v2h-1zM327 69h1v2h-1zM329 66h1v2h-1zM333 61h1v2h-1zM465 63h1v2h-1zM469 68h1v2h-1zM480 77h1v2h-1zM482 80h1v2h-1zM484 83h1v2h-1zM486 86h1v2h-1zM488 89h1v2h-1zM491 93h1v2h-1zM494 97h1v2h-1zM496 100h1v2h-1zM499 104h1v2h-1zM502 108h1v2h-1zM507 114h1v2h-1zM680 172h1v2h-1zM683 176h1v2h-1zM686 180h1v2h-1zM688 183h1v2h-1zM689 185h1v2h-1zM691 188h1v2h-1zM693 191h1v2h-1zM694 193h1v2h-1zM745 202h1v2h-1zM749 197h1v2h-1zM777 181h1v2h-1zM781 176h1v2h-1zM784 172h1v2h-1zM786 169h1v2h-1zM788 166h1v2h-1zM790 163h1v2h-1zM791 161h1v2h-1zM792 159h1v2h-1zM793 157h1v2h-1zM794 155h1v2h-1zM795 153h1v2h-1zM796 151h1v2h-1zM797 149h1v2h-1zM798 147h1v2h-1zM799 145h1v2h-1zM880 164h1v2h-1zM883 168h1v2h-1zM886 172h1v2h-1zM888 175h1v2h-1zM890 178h1v2h-1zM892 181h1v2h-1zM894 184h1v2h-1zM896 187h1v2h-1zM899 191h1v2h-1zM902 195h1v2h-1zM903 197h1v2h-1zM904 199h1v2h-1zM905 201h1v2h-1zM906 203h1v3h-1zM907 206h1v2h-1zM908 208h1v3h-1zM909 211h1v2h-1zM910 213h1v2h-1zM911 215h1v3h-1zM912 218h1v4h-1zM913 222h1v3h-1zM914 225h1v3h-1zM915 228h1v4h-1zM916 232h1v3h-1zM917 235h1v3h-1zM918 238h1v4h-1zM919 242h1v3h-1zM920 245h1v4h-1zM921 249h1v4h-1zM922 253h1v4h-1zM923 257h1v3h-1zM924 260h1v4h-1zM925 264h1v4h-1zM926 268h1v4h-1zM927 272h1v2h-1zM928 274h1v2h-1zM929 276h1v2h-1zM930 278h1v2h-1zM932 281h1v2h-1zM933 283h1v2h-1zM934 285h1v2h-1zM1139 291h1v2h-1zM1151 281h1v2h-1zM1152 279h1v2h-1zM1153 276h1v3h-1zM1154 273h1v3h-1zM1155 271h1v2h-1zM1156 268h1v3h-1zM1157 265h1v3h-1zM1158 263h1v2h-1zM1159 260h1v3h-1zM1160 258h1v2h-1zM1161 255h1v3h-1zM1162 252h1v3h-1zM1163 250h1v2h-1zM1164 247h1v3h-1zM1165 244h1v3h-1zM1166 242h1v2h-1zM1167 239h1v3h-1zM1168 235h1v4h-1zM1169 231h1v4h-1zM1170 227h1v4h-1zM1171 224h1v3h-1zM1172 220h1v4h-1zM1173 216h1v4h-1zM1174 212h1v4h-1zM1175 209h1v3h-1zM1176 205h1v4h-1zM1177 201h1v4h-1zM1178 197h1v4h-1zM1179 193h1v4h-1zM1180 189h1v4h-1zM1181 185h1v4h-1zM1182 181h1v4h-1zM1183 179h1v2h-1zM95 179h1v1h-1zM246 179h1v1h-1zM685 179h1v1h-1zM779 179h1v1h-1zM96 180h1v1h-1zM245 180h1v1h-1zM778 180h1v1h-1zM891 180h1v1h-1zM97 181h1v1h-1zM243 181h2v1h-2zM98 182h1v1h-1zM242 182h1v1h-1zM687 182h1v1h-1zM99 183h1v1h-1zM241 183h1v1h-1zM767 183h4v1h-4zM776 183h1v1h-1zM893 183h1v1h-1zM100 184h1v1h-1zM240 184h1v1h-1zM765 184h2v1h-2zM771 184h5v1h-5zM101 185h1v1h-1zM238 185h2v1h-2zM763 185h2v1h-2zM102 186h1v1h-1zM235 186h3v1h-3zM762 186h1v1h-1zM895 186h1v1h-1zM103 187h1v1h-1zM166 187h21v1h-21zM233 187h2v1h-2zM690 187h1v1h-1zM760 187h2v1h-2zM104 188h1v1h-1zM163 188h3v1h-3zM187 188h5v1h-5zM227 188h6v1h-6zM759 188h1v1h-1zM105 189h1v1h-1zM161 189h2v1h-2zM192 189h2v1h-2zM219 189h8v1h-8zM758 189h1v1h-1zM897 189h1v1h-1zM106 190h1v1h-1zM157 190h4v1h-4zM194 190h2v1h-2zM213 190h6v1h-6zM692 190h1v1h-1zM757 190h1v1h-1zM898 190h1v1h-1zM108 193h1v1h-1zM147 193h3v1h-3zM753 193h1v1h-1zM900 193h1v1h-1zM109 194h1v1h-1zM145 194h2v1h-2zM752 194h1v1h-1zM901 194h1v1h-1zM110 195h1v1h-1zM142 195h3v1h-3zM695 195h1v1h-1zM751 195h1v1h-1zM111 196h2v1h-2zM140 196h2v1h-2zM696 196h2v1h-2zM750 196h1v1h-1zM113 197h2v1h-2zM138 197h2v1h-2zM698 197h2v1h-2zM115 198h3v1h-3zM136 198h2v1h-2zM700 198h2v1h-2zM118 199h18v1h-18zM702 199h2v1h-2zM748 199h1v1h-1zM150 192h3v1h-3zM198 192h11v1h-11zM754 192h1v1h-1zM153 191h4v1h-4zM196 191h2v1h-2zM209 191h4v1h-4zM755 191h2v1h-2zM247 178h1v1h-1zM684 178h1v1h-1zM780 178h1v1h-1zM248 177h1v1h-1zM889 177h1v1h-1zM249 176h1v1h-1zM250 175h1v1h-1zM682 175h1v1h-1zM782 175h1v1h-1zM251 174h1v1h-1zM681 174h1v1h-1zM783 174h1v1h-1zM887 174h1v1h-1zM252 173h1v1h-1zM253 172h1v1h-1zM254 171h1v1h-1zM679 171h1v1h-1zM785 171h1v1h-1zM885 171h1v1h-1zM255 170h1v1h-1zM677 170h2v1h-2zM884 170h1v1h-1zM257 167h1v1h-1zM672 167h2v1h-2zM882 167h1v1h-1zM259 164h1v1h-1zM667 164h2v1h-2zM261 161h1v1h-1zM662 161h2v1h-2zM877 161h1v1h-1zM263 158h1v1h-1zM654 158h3v1h-3zM874 158h1v1h-1zM264 157h1v1h-1zM651 157h3v1h-3zM873 157h1v1h-1zM265 156h1v1h-1zM649 156h2v1h-2zM872 156h1v1h-1zM266 155h1v1h-1zM595 155h5v1h-5zM646 155h3v1h-3zM871 155h1v1h-1zM267 154h1v1h-1zM583 154h12v1h-12zM600 154h1v1h-1zM643 154h3v1h-3zM870 154h1v1h-1zM268 153h1v1h-1zM581 153h2v1h-2zM601 153h2v1h-2zM641 153h2v1h-2zM869 153h1v1h-1zM269 152h1v1h-1zM580 152h1v1h-1zM603 152h1v1h-1zM639 152h2v1h-2zM867 152h2v1h-2zM270 151h1v1h-1zM579 151h1v1h-1zM604 151h1v1h-1zM638 151h1v1h-1zM866 151h1v1h-1zM271 150h1v1h-1zM577 150h2v1h-2zM605 150h2v1h-2zM637 150h1v1h-1zM865 150h1v1h-1zM272 149h1v1h-1zM576 149h1v1h-1zM607 149h1v1h-1zM635 149h2v1h-2zM864 149h1v1h-1zM273 148h1v1h-1zM574 148h2v1h-2zM608 148h2v1h-2zM634 148h1v1h-1zM862 148h2v1h-2zM274 147h1v1h-1zM572 147h2v1h-2zM610 147h2v1h-2zM633 147h1v1h-1zM860 147h2v1h-2zM275 146h2v1h-2zM557 146h4v1h-4zM570 146h2v1h-2zM612 146h2v1h-2zM632 146h1v1h-1zM858 146h2v1h-2zM277 145h1v1h-1zM553 145h4v1h-4zM561 145h4v1h-4zM568 145h2v1h-2zM614 145h5v1h-5zM627 145h5v1h-5zM800 145h3v1h-3zM856 145h2v1h-2zM278 144h1v1h-1zM547 144h6v1h-6zM565 144h3v1h-3zM619 144h8v1h-8zM803 144h5v1h-5zM854 144h2v1h-2zM279 143h2v1h-2zM543 143h4v1h-4zM808 143h2v1h-2zM852 143h2v1h-2zM281 142h2v1h-2zM541 142h2v1h-2zM810 142h1v1h-1zM850 142h2v1h-2zM283 141h3v1h-3zM539 141h2v1h-2zM811 141h2v1h-2zM848 141h2v1h-2zM286 140h2v1h-2zM538 140h1v1h-1zM813 140h2v1h-2zM845 140h3v1h-3zM288 139h1v1h-1zM536 139h2v1h-2zM815 139h4v1h-4zM841 139h4v1h-4zM289 138h2v1h-2zM534 138h2v1h-2zM819 138h22v1h-22zM291 137h1v1h-1zM531 137h3v1h-3zM292 136h1v1h-1zM529 136h2v1h-2zM293 135h2v1h-2zM527 135h2v1h-2zM312 96h1v1h-1zM493 96h1v1h-1zM313 95h1v1h-1zM492 95h1v1h-1zM314 94h1v1h-1zM316 91h1v1h-1zM489 91h1v1h-1zM317 90h1v1h-1zM318 89h1v1h-1zM328 68h1v1h-1zM401 68h4v1h-4zM425 68h4v1h-4zM330 65h1v1h-1zM394 65h2v1h-2zM442 65h2v1h-2zM466 65h1v1h-1zM331 64h1v1h-1zM392 64h2v1h-2zM444 64h2v1h-2zM332 63h1v1h-1zM390 63h2v1h-2zM446 63h3v1h-3zM334 60h1v1h-1zM384 60h2v1h-2zM454 60h5v1h-5zM335 59h1v1h-1zM382 59h2v1h-2zM336 58h1v1h-1zM380 58h2v1h-2zM337 57h2v1h-2zM378 57h2v1h-2zM339 56h1v1h-1zM376 56h2v1h-2zM340 55h1v1h-1zM374 55h2v1h-2zM341 54h2v1h-2zM371 54h3v1h-3zM343 53h2v1h-2zM369 53h2v1h-2zM345 52h4v1h-4zM363 52h6v1h-6zM349 51h14v1h-14zM386 61h2v1h-2zM451 61h3v1h-3zM459 61h5v1h-5zM388 62h2v1h-2zM449 62h2v1h-2zM464 62h1v1h-1zM396 66h2v1h-2zM440 66h2v1h-2zM467 66h1v1h-1zM398 67h3v1h-3zM429 67h11v1h-11zM468 67h1v1h-1zM405 69h20v1h-20zM470 70h1v1h-1zM471 71h1v1h-1zM472 72h2v1h-2zM474 73h1v1h-1zM475 74h2v1h-2zM477 75h2v1h-2zM479 76h1v1h-1zM481 79h1v1h-1zM483 82h1v1h-1zM485 85h1v1h-1zM487 88h1v1h-1zM490 92h1v1h-1zM495 99h1v1h-1zM497 102h1v1h-1zM498 103h1v1h-1zM500 106h1v1h-1zM501 107h1v1h-1zM503 110h1v1h-1zM504 111h1v1h-1zM505 112h1v1h-1zM506 113h1v1h-1zM508 116h1v1h-1zM509 117h1v1h-1zM510 118h1v1h-1zM511 119h1v1h-1zM512 120h1v1h-1zM513 121h1v1h-1zM514 122h1v1h-1zM515 123h1v1h-1zM516 124h1v1h-1zM517 125h1v1h-1zM518 126h1v1h-1zM519 127h1v1h-1zM520 128h1v1h-1zM521 129h1v1h-1zM522 130h1v1h-1zM523 131h1v1h-1zM524 132h1v1h-1zM525 133h1v1h-1zM526 134h1v1h-1zM657 159h2v1h-2zM875 159h1v1h-1zM659 160h3v1h-3zM876 160h1v1h-1zM664 162h2v1h-2zM878 162h1v1h-1zM666 163h1v1h-1zM879 163h1v1h-1zM669 165h2v1h-2zM789 165h1v1h-1zM671 166h1v1h-1zM881 166h1v1h-1zM674 168h1v1h-1zM787 168h1v1h-1zM675 169h2v1h-2zM704 200h1v1h-1zM747 200h1v1h-1zM705 201h2v1h-2zM746 201h1v1h-1zM707 202h1v1h-1zM726 202h5v1h-5zM708 203h1v1h-1zM723 203h3v1h-3zM731 203h6v1h-6zM709 204h2v1h-2zM721 204h2v1h-2zM737 204h4v1h-4zM744 204h1v1h-1zM711 205h10v1h-10zM741 205h3v1h-3zM931 280h1v1h-1zM993 280h4v1h-4zM1003 280h6v1h-6zM935 287h2v1h-2zM966 287h5v1h-5zM1030 287h3v1h-3zM1143 287h1v1h-1zM937 286h4v1h-4zM963 286h3v1h-3zM971 286h13v1h-13zM1027 286h3v1h-3zM1144 286h2v1h-2zM941 285h6v1h-6zM961 285h2v1h-2zM984 285h2v1h-2zM1025 285h2v1h-2zM1146 285h1v1h-1zM947 284h14v1h-14zM986 284h1v1h-1zM1021 284h4v1h-4zM1147 284h2v1h-2zM987 283h2v1h-2zM1017 283h4v1h-4zM1149 283h2v1h-2zM989 282h2v1h-2zM1013 282h4v1h-4zM991 281h2v1h-2zM1009 281h4v1h-4zM997 279h6v1h-6zM1033 288h4v1h-4zM1142 288h1v1h-1zM1037 289h4v1h-4zM1141 289h1v1h-1zM1041 290h2v1h-2zM1140 290h1v1h-1zM1043 291h3v1h-3zM1046 292h3v1h-3zM1049 293h2v1h-2zM1138 293h1v1h-1zM1051 294h3v1h-3zM1137 294h1v1h-1zM1054 295h5v1h-5zM1067 295h22v1h-22zM1136 295h1v1h-1zM1059 296h8v1h-8zM1089 296h4v1h-4zM1135 296h1v1h-1zM1093 297h4v1h-4zM1134 297h1v1h-1zM1097 298h2v1h-2zM1133 298h1v1h-1zM1099 299h3v1h-3zM1107 299h5v1h-5zM1132 299h1v1h-1zM1102 300h5v1h-5zM1112 300h1v1h-1zM1131 300h1v1h-1zM1113 301h2v1h-2zM1130 301h1v1h-1zM1115 302h1v1h-1zM1129 302h1v1h-1zM1116 303h1v1h-1zM1128 303h1v1h-1zM1117 304h2v1h-2zM1123 304h5v1h-5zM1119 305h4v1h-4z" fill="#e6e600"/>
<path d="M307 254h1v2h-1zM347 252h1v2h-1zM353 245h1v2h-1zM357 240h1v2h-1zM361 235h1v2h-1zM365 230h1v2h-1zM368 226h1v2h-1zM371 222h1v2h-1zM374 218h1v2h-1zM379 212h1v2h-1zM385 205h1v2h-1zM389 200h1v2h-1zM451 204h1v2h-1zM600 240h1v2h-1zM601 242h1v2h-1zM602 244h1v2h-1zM604 247h1v2h-1zM605 249h1v2h-1zM606 251h1v2h-1zM609 255h1v2h-1zM613 260h1v2h-1zM775 286h1v2h-1zM776 288h1v2h-1zM777 290h1v2h-1zM778 292h1v2h-1zM779 294h1v3h-1zM780 297h1v2h-1zM781 299h1v2h-1zM782 301h1v2h-1zM783 303h1v3h-1zM784 306h1v2h-1zM785 308h1v2h-1zM786 310h1v3h-1zM787 313h1v2h-1zM788 315h1v3h-1zM789 318h1v2h-1zM790 320h1v2h-1zM791 322h1v3h-1zM792 325h1v4h-1zM793 329h1v4h-1zM794 333h1v3h-1zM795 336h1v4h-1zM796 340h1v3h-1zM797 343h1v4h-1zM798 347h1v4h-1zM799 351h1v2h-1zM803 356h1v2h-1zM808 362h1v2h-1zM809 364h1v2h-1zM810 366h1v2h-1zM812 369h1v2h-1zM813 371h1v2h-1zM814 373h1v2h-1zM819 379h1v2h-1zM825 386h1v2h-1zM829 391h1v2h-1zM920 406h1v2h-1zM921 404h1v2h-1zM923 401h1v2h-1zM925 398h1v2h-1zM926 396h1v2h-1zM937 396h1v2h-1zM941 401h1v2h-1zM1096 389h1v2h-1zM1098 386h1v2h-1zM1100 383h1v2h-1zM1102 380h1v2h-1zM1112 372h1v2h-1zM1113 370h1v2h-1zM1114 368h1v2h-1zM1116 365h1v2h-1zM1117 363h1v2h-1zM1118 361h1v2h-1zM1152 367h1v2h-1zM1154 370h1v2h-1zM1156 373h1v2h-1zM1158 376h1v2h-1zM1167 386h1v2h-1zM1168 388h1v2h-1zM1169 390h1v2h-1zM1170 392h1v2h-1zM1171 394h1v3h-1zM1172 397h1v2h-1zM1173 399h1v2h-1zM1174 401h1v2h-1zM1175 403h1v2h-1zM1176 405h1v2h-1zM1178 408h1v2h-1zM1180 411h1v2h-1zM1182 414h1v2h-1zM95 262h2v1h-2zM320 262h2v1h-2zM334 262h2v1h-2zM614 262h1v1h-1zM97 261h4v1h-4zM317 261h3v1h-3zM336 261h2v1h-2zM101 260h3v1h-3zM313 260h4v1h-4zM338 260h1v1h-1zM104 259h2v1h-2zM311 259h2v1h-2zM339 259h2v1h-2zM612 259h1v1h-1zM106 258h1v1h-1zM118 258h13v1h-13zM310 258h1v1h-1zM341 258h2v1h-2zM611 258h1v1h-1zM107 257h2v1h-2zM115 257h3v1h-3zM131 257h16v1h-16zM262 257h5v1h-5zM309 257h1v1h-1zM343 257h1v1h-1zM610 257h1v1h-1zM109 256h2v1h-2zM113 256h2v1h-2zM147 256h6v1h-6zM260 256h2v1h-2zM267 256h5v1h-5zM308 256h1v1h-1zM344 256h1v1h-1zM111 255h2v1h-2zM153 255h2v1h-2zM258 255h2v1h-2zM272 255h2v1h-2zM345 255h1v1h-1zM155 254h3v1h-3zM256 254h2v1h-2zM274 254h2v1h-2zM346 254h1v1h-1zM608 254h1v1h-1zM158 253h35v1h-35zM255 253h1v1h-1zM276 253h2v1h-2zM306 253h1v1h-1zM607 253h1v1h-1zM193 252h4v1h-4zM253 252h2v1h-2zM278 252h2v1h-2zM305 252h1v1h-1zM197 251h6v1h-6zM251 251h2v1h-2zM280 251h2v1h-2zM304 251h1v1h-1zM348 251h1v1h-1zM203 250h30v1h-30zM250 250h1v1h-1zM282 250h2v1h-2zM303 250h1v1h-1zM349 250h1v1h-1zM233 249h4v1h-4zM248 249h2v1h-2zM284 249h2v1h-2zM301 249h2v1h-2zM350 249h1v1h-1zM237 248h11v1h-11zM286 248h3v1h-3zM299 248h2v1h-2zM351 248h1v1h-1zM289 247h2v1h-2zM298 247h1v1h-1zM352 247h1v1h-1zM291 246h3v1h-3zM296 246h2v1h-2zM603 246h1v1h-1zM294 245h2v1h-2zM322 263h2v1h-2zM331 263h3v1h-3zM615 263h1v1h-1zM324 264h2v1h-2zM329 264h2v1h-2zM616 264h1v1h-1zM326 265h3v1h-3zM617 265h1v1h-1zM354 244h1v1h-1zM355 243h1v1h-1zM356 242h1v1h-1zM358 239h1v1h-1zM599 239h1v1h-1zM359 238h1v1h-1zM597 238h2v1h-2zM360 237h1v1h-1zM596 237h1v1h-1zM362 234h1v1h-1zM592 234h1v1h-1zM363 233h1v1h-1zM591 233h1v1h-1zM364 232h1v1h-1zM589 232h2v1h-2zM366 229h1v1h-1zM585 229h2v1h-2zM367 228h1v1h-1zM584 228h1v1h-1zM369 225h1v1h-1zM567 225h2v1h-2zM370 224h1v1h-1zM566 224h1v1h-1zM372 221h1v1h-1zM562 221h1v1h-1zM373 220h1v1h-1zM561 220h1v1h-1zM375 217h1v1h-1zM463 217h4v1h-4zM481 217h4v1h-4zM557 217h2v1h-2zM376 216h1v1h-1zM462 216h1v1h-1zM485 216h6v1h-6zM499 216h8v1h-8zM556 216h1v1h-1zM377 215h1v1h-1zM461 215h1v1h-1zM491 215h8v1h-8zM507 215h6v1h-6zM555 215h1v1h-1zM378 214h1v1h-1zM460 214h1v1h-1zM513 214h4v1h-4zM553 214h2v1h-2zM380 211h1v1h-1zM457 211h1v1h-1zM523 211h3v1h-3zM545 211h4v1h-4zM381 210h1v1h-1zM456 210h1v1h-1zM526 210h5v1h-5zM539 210h6v1h-6zM382 209h1v1h-1zM455 209h1v1h-1zM531 209h8v1h-8zM383 208h1v1h-1zM454 208h1v1h-1zM384 207h1v1h-1zM453 207h1v1h-1zM386 204h1v1h-1zM387 203h1v1h-1zM450 203h1v1h-1zM388 202h1v1h-1zM449 202h1v1h-1zM390 199h1v1h-1zM445 199h2v1h-2zM391 198h1v1h-1zM444 198h1v1h-1zM392 197h1v1h-1zM443 197h1v1h-1zM393 196h1v1h-1zM441 196h2v1h-2zM394 195h1v1h-1zM440 195h1v1h-1zM395 194h1v1h-1zM438 194h2v1h-2zM396 193h1v1h-1zM435 193h3v1h-3zM397 192h1v1h-1zM433 192h2v1h-2zM398 191h1v1h-1zM430 191h3v1h-3zM399 190h2v1h-2zM427 190h3v1h-3zM401 189h4v1h-4zM425 189h2v1h-2zM405 188h6v1h-6zM419 188h6v1h-6zM411 187h8v1h-8zM447 200h1v1h-1zM448 201h1v1h-1zM452 206h1v1h-1zM458 212h1v1h-1zM521 212h2v1h-2zM549 212h3v1h-3zM459 213h1v1h-1zM517 213h4v1h-4zM552 213h1v1h-1zM467 218h14v1h-14zM559 218h1v1h-1zM560 219h1v1h-1zM563 222h2v1h-2zM565 223h1v1h-1zM569 226h4v1h-4zM573 227h11v1h-11zM587 230h1v1h-1zM588 231h1v1h-1zM593 235h2v1h-2zM595 236h1v1h-1zM618 266h1v1h-1zM619 267h1v1h-1zM620 268h1v1h-1zM621 269h1v1h-1zM622 270h1v1h-1zM623 271h1v1h-1zM624 272h1v1h-1zM625 273h1v1h-1zM626 274h1v1h-1zM627 275h2v1h-2zM629 276h1v1h-1zM630 277h1v1h-1zM631 278h1v1h-1zM632 279h2v1h-2zM634 280h2v1h-2zM741 280h3v1h-3zM636 281h2v1h-2zM710 281h13v1h-13zM737 281h4v1h-4zM744 281h2v1h-2zM638 282h3v1h-3zM707 282h3v1h-3zM723 282h14v1h-14zM746 282h1v1h-1zM641 283h2v1h-2zM705 283h2v1h-2zM747 283h2v1h-2zM643 284h3v1h-3zM701 284h4v1h-4zM749 284h2v1h-2zM646 285h3v1h-3zM697 285h4v1h-4zM751 285h2v1h-2zM649 286h2v1h-2zM695 286h2v1h-2zM753 286h2v1h-2zM765 286h10v1h-10zM651 287h3v1h-3zM693 287h2v1h-2zM755 287h3v1h-3zM761 287h4v1h-4zM654 288h3v1h-3zM692 288h1v1h-1zM758 288h3v1h-3zM657 289h4v1h-4zM691 289h1v1h-1zM661 290h4v1h-4zM689 290h2v1h-2zM665 291h4v1h-4zM688 291h1v1h-1zM669 292h4v1h-4zM685 292h3v1h-3zM673 293h4v1h-4zM681 293h4v1h-4zM677 294h4v1h-4zM800 353h1v1h-1zM801 354h1v1h-1zM802 355h1v1h-1zM804 358h1v1h-1zM1123 358h3v1h-3zM1129 358h2v1h-2zM805 359h1v1h-1zM1121 359h2v1h-2zM1131 359h3v1h-3zM806 360h1v1h-1zM1119 360h2v1h-2zM1134 360h2v1h-2zM807 361h1v1h-1zM1136 361h2v1h-2zM811 368h1v1h-1zM815 375h1v1h-1zM1109 375h2v1h-2zM1157 375h1v1h-1zM816 376h1v1h-1zM1107 376h2v1h-2zM817 377h1v1h-1zM1106 377h1v1h-1zM818 378h1v1h-1zM1104 378h2v1h-2zM1159 378h1v1h-1zM820 381h1v1h-1zM1162 381h1v1h-1zM821 382h1v1h-1zM1101 382h1v1h-1zM1163 382h1v1h-1zM822 383h1v1h-1zM1164 383h1v1h-1zM823 384h1v1h-1zM1165 384h1v1h-1zM824 385h1v1h-1zM1099 385h1v1h-1zM1166 385h1v1h-1zM826 388h1v1h-1zM1097 388h1v1h-1zM827 389h1v1h-1zM828 390h1v1h-1zM830 393h1v1h-1zM1092 393h1v1h-1zM831 394h1v1h-1zM931 394h5v1h-5zM1091 394h1v1h-1zM832 395h1v1h-1zM927 395h4v1h-4zM936 395h1v1h-1zM1089 395h2v1h-2zM833 396h1v1h-1zM1088 396h1v1h-1zM834 397h1v1h-1zM1086 397h2v1h-2zM835 398h2v1h-2zM938 398h1v1h-1zM1083 398h3v1h-3zM837 399h1v1h-1zM939 399h1v1h-1zM1081 399h2v1h-2zM838 400h1v1h-1zM924 400h1v1h-1zM940 400h1v1h-1zM1079 400h2v1h-2zM839 401h1v1h-1zM1077 401h2v1h-2zM840 402h1v1h-1zM1075 402h2v1h-2zM841 403h1v1h-1zM922 403h1v1h-1zM942 403h1v1h-1zM1074 403h1v1h-1zM842 404h1v1h-1zM943 404h1v1h-1zM1072 404h2v1h-2zM843 405h2v1h-2zM944 405h2v1h-2zM1067 405h5v1h-5zM845 406h1v1h-1zM946 406h2v1h-2zM1051 406h16v1h-16zM846 407h1v1h-1zM948 407h2v1h-2zM1027 407h24v1h-24zM1177 407h1v1h-1zM847 408h2v1h-2zM919 408h1v1h-1zM950 408h5v1h-5zM971 408h16v1h-16zM1013 408h14v1h-14zM849 409h2v1h-2zM917 409h2v1h-2zM955 409h16v1h-16zM987 409h16v1h-16zM1009 409h4v1h-4zM851 410h3v1h-3zM915 410h2v1h-2zM1003 410h6v1h-6zM1179 410h1v1h-1zM854 411h3v1h-3zM914 411h1v1h-1zM857 412h2v1h-2zM912 412h2v1h-2zM859 413h3v1h-3zM911 413h1v1h-1zM1181 413h1v1h-1zM862 414h3v1h-3zM909 414h2v1h-2zM865 415h4v1h-4zM907 415h2v1h-2zM869 416h4v1h-4zM906 416h1v1h-1zM1183 416h1v1h-1zM873 417h2v1h-2zM893 417h6v1h-6zM904 417h2v1h-2zM875 418h3v1h-3zM889 418h4v1h-4zM899 418h5v1h-5zM878 419h11v1h-11zM1093 392h2v1h-2zM1095 391h1v1h-1zM1103 379h1v1h-1zM1160 379h1v1h-1zM1111 374h1v1h-1zM1115 367h1v1h-1zM1126 357h3v1h-3zM1138 362h2v1h-2zM1140 363h2v1h-2zM1142 364h3v1h-3zM1145 365h4v1h-4zM1149 366h3v1h-3zM1153 369h1v1h-1zM1155 372h1v1h-1zM1161 380h1v1h-1z" fill="#e61ee6"/>
<rect x="911" y="356" width="307" height="1" fill="#ffff00"/>
<path d="M307 510h1v2h-1zM776 557h1v2h-1zM777 559h1v2h-1zM778 561h1v2h-1zM780 564h1v2h-1zM781 566h1v2h-1zM782 568h1v2h-1zM783 570h1v2h-1zM784 572h1v2h-1zM785 574h1v2h-1zM786 576h1v2h-1zM787 578h1v3h-1zM788 581h1v2h-1zM789 583h1v2h-1zM790 585h1v2h-1zM791 587h1v2h-1zM792 589h1v2h-1zM793 591h1v2h-1zM794 593h1v2h-1zM795 595h1v2h-1zM796 597h1v2h-1zM797 599h1v2h-1zM798 601h1v2h-1zM799 603h1v2h-1zM987 588h1v2h-1zM1155 533h1v2h-1zM1163 524h1v2h-1zM1167 519h1v2h-1zM1168 517h1v2h-1zM1169 515h1v2h-1zM1170 513h1v2h-1zM1171 510h1v3h-1zM1172 508h1v2h-1zM1173 506h1v2h-1zM1174 504h1v2h-1zM1175 502h1v2h-1zM1176 500h1v2h-1zM1177 498h1v2h-1zM1179 495h1v2h-1zM1181 492h1v2h-1zM1182 490h1v2h-1zM95 568h18v1h-18zM139 568h2v1h-2zM456 568h2v1h-2zM477 568h4v1h-4zM725 568h2v1h-2zM1025 568h2v1h-2zM113 569h2v1h-2zM138 569h1v1h-1zM458 569h2v1h-2zM473 569h4v1h-4zM481 569h4v1h-4zM723 569h2v1h-2zM1022 569h3v1h-3zM115 570h3v1h-3zM136 570h2v1h-2zM460 570h2v1h-2zM467 570h6v1h-6zM485 570h6v1h-6zM533 570h4v1h-4zM722 570h1v1h-1zM1019 570h3v1h-3zM118 571h18v1h-18zM462 571h5v1h-5zM491 571h6v1h-6zM529 571h4v1h-4zM537 571h2v1h-2zM720 571h2v1h-2zM1017 571h2v1h-2zM141 567h2v1h-2zM455 567h1v1h-1zM727 567h2v1h-2zM1027 567h3v1h-3zM1043 567h8v1h-8zM143 566h1v1h-1zM453 566h2v1h-2zM729 566h2v1h-2zM1030 566h13v1h-13zM1051 566h8v1h-8zM144 565h2v1h-2zM451 565h2v1h-2zM731 565h3v1h-3zM1059 565h16v1h-16zM1091 565h5v1h-5zM146 564h2v1h-2zM450 564h1v1h-1zM734 564h3v1h-3zM1075 564h16v1h-16zM1096 564h2v1h-2zM148 563h2v1h-2zM448 563h2v1h-2zM737 563h4v1h-4zM779 563h1v1h-1zM1098 563h1v1h-1zM150 562h2v1h-2zM447 562h1v1h-1zM741 562h3v1h-3zM1099 562h2v1h-2zM152 561h2v1h-2zM446 561h1v1h-1zM744 561h1v1h-1zM1101 561h2v1h-2zM154 560h1v1h-1zM445 560h1v1h-1zM745 560h1v1h-1zM1103 560h1v1h-1zM155 559h2v1h-2zM444 559h1v1h-1zM746 559h1v1h-1zM1104 559h2v1h-2zM157 558h2v1h-2zM443 558h1v1h-1zM747 558h2v1h-2zM1106 558h2v1h-2zM159 557h2v1h-2zM442 557h1v1h-1zM749 557h1v1h-1zM1108 557h2v1h-2zM161 556h2v1h-2zM441 556h1v1h-1zM750 556h1v1h-1zM775 556h1v1h-1zM1110 556h3v1h-3zM163 555h3v1h-3zM187 555h24v1h-24zM440 555h1v1h-1zM751 555h1v1h-1zM774 555h1v1h-1zM1113 555h4v1h-4zM166 554h21v1h-21zM211 554h14v1h-14zM438 554h2v1h-2zM752 554h2v1h-2zM773 554h1v1h-1zM1117 554h4v1h-4zM225 553h4v1h-4zM435 553h3v1h-3zM754 553h2v1h-2zM772 553h1v1h-1zM1121 553h4v1h-4zM229 552h4v1h-4zM433 552h2v1h-2zM756 552h2v1h-2zM771 552h1v1h-1zM1125 552h3v1h-3zM233 551h2v1h-2zM431 551h2v1h-2zM758 551h3v1h-3zM770 551h1v1h-1zM1128 551h1v1h-1zM235 550h3v1h-3zM429 550h2v1h-2zM761 550h2v1h-2zM769 550h1v1h-1zM1129 550h2v1h-2zM238 549h2v1h-2zM427 549h2v1h-2zM763 549h3v1h-3zM768 549h1v1h-1zM1131 549h1v1h-1zM240 548h2v1h-2zM426 548h1v1h-1zM766 548h2v1h-2zM1132 548h1v1h-1zM242 547h2v1h-2zM424 547h2v1h-2zM1133 547h2v1h-2zM244 546h2v1h-2zM421 546h3v1h-3zM1135 546h1v1h-1zM246 545h2v1h-2zM417 545h4v1h-4zM1136 545h1v1h-1zM248 544h1v1h-1zM415 544h2v1h-2zM1137 544h2v1h-2zM249 543h1v1h-1zM413 543h2v1h-2zM1139 543h1v1h-1zM250 542h1v1h-1zM412 542h1v1h-1zM1140 542h1v1h-1zM251 541h2v1h-2zM411 541h1v1h-1zM1141 541h2v1h-2zM253 540h1v1h-1zM409 540h2v1h-2zM1143 540h2v1h-2zM254 539h1v1h-1zM408 539h1v1h-1zM1145 539h4v1h-4zM255 538h1v1h-1zM407 538h1v1h-1zM1149 538h3v1h-3zM256 537h1v1h-1zM405 537h2v1h-2zM1152 537h1v1h-1zM257 536h2v1h-2zM404 536h1v1h-1zM1153 536h1v1h-1zM259 535h1v1h-1zM403 535h1v1h-1zM1154 535h1v1h-1zM260 534h1v1h-1zM401 534h2v1h-2zM261 533h2v1h-2zM400 533h1v1h-1zM263 532h2v1h-2zM398 532h2v1h-2zM1156 532h1v1h-1zM265 531h4v1h-4zM396 531h2v1h-2zM1157 531h1v1h-1zM269 530h3v1h-3zM394 530h2v1h-2zM1158 530h1v1h-1zM272 529h2v1h-2zM392 529h2v1h-2zM1159 529h1v1h-1zM274 528h2v1h-2zM391 528h1v1h-1zM1160 528h1v1h-1zM276 527h2v1h-2zM390 527h1v1h-1zM1161 527h1v1h-1zM278 526h5v1h-5zM389 526h1v1h-1zM1162 526h1v1h-1zM283 525h6v1h-6zM388 525h1v1h-1zM289 524h2v1h-2zM387 524h1v1h-1zM291 523h3v1h-3zM386 523h1v1h-1zM1164 523h1v1h-1zM294 522h2v1h-2zM385 522h1v1h-1zM1165 522h1v1h-1zM296 521h1v1h-1zM384 521h1v1h-1zM1166 521h1v1h-1zM297 520h1v1h-1zM383 520h1v1h-1zM298 519h1v1h-1zM381 519h2v1h-2zM299 518h2v1h-2zM379 518h2v1h-2zM301 517h1v1h-1zM378 517h1v1h-1zM302 516h1v1h-1zM376 516h2v1h-2zM303 515h1v1h-1zM375 515h1v1h-1zM304 514h1v1h-1zM374 514h1v1h-1zM305 513h1v1h-1zM373 513h1v1h-1zM306 512h1v1h-1zM371 512h2v1h-2zM308 509h1v1h-1zM368 509h1v1h-1zM309 508h1v1h-1zM367 508h1v1h-1zM310 507h1v1h-1zM365 507h2v1h-2zM311 506h2v1h-2zM363 506h2v1h-2zM313 505h2v1h-2zM362 505h1v1h-1zM315 504h3v1h-3zM360 504h2v1h-2zM318 503h2v1h-2zM359 503h1v1h-1zM320 502h1v1h-1zM357 502h2v1h-2zM321 501h1v1h-1zM355 501h2v1h-2zM322 500h1v1h-1zM354 500h1v1h-1zM323 499h2v1h-2zM352 499h2v1h-2zM325 498h1v1h-1zM350 498h2v1h-2zM326 497h1v1h-1zM347 497h3v1h-3zM1178 497h1v1h-1zM327 496h2v1h-2zM345 496h2v1h-2zM329 495h4v1h-4zM339 495h6v1h-6zM333 494h6v1h-6zM1180 494h1v1h-1zM369 510h1v1h-1zM370 511h1v1h-1zM497 572h2v1h-2zM525 572h4v1h-4zM539 572h3v1h-3zM719 572h1v1h-1zM1014 572h3v1h-3zM499 573h3v1h-3zM521 573h4v1h-4zM542 573h10v1h-10zM717 573h2v1h-2zM1011 573h3v1h-3zM502 574h5v1h-5zM515 574h6v1h-6zM552 574h2v1h-2zM715 574h2v1h-2zM1009 574h2v1h-2zM507 575h8v1h-8zM554 575h1v1h-1zM714 575h1v1h-1zM1005 575h4v1h-4zM555 576h2v1h-2zM712 576h2v1h-2zM1001 576h4v1h-4zM557 577h2v1h-2zM711 577h1v1h-1zM999 577h2v1h-2zM559 578h1v1h-1zM709 578h2v1h-2zM998 578h1v1h-1zM560 579h2v1h-2zM707 579h2v1h-2zM997 579h1v1h-1zM562 580h2v1h-2zM706 580h1v1h-1zM995 580h2v1h-2zM564 581h2v1h-2zM704 581h2v1h-2zM994 581h1v1h-1zM566 582h19v1h-19zM702 582h2v1h-2zM993 582h1v1h-1zM585 583h2v1h-2zM700 583h2v1h-2zM992 583h1v1h-1zM587 584h3v1h-3zM698 584h2v1h-2zM991 584h1v1h-1zM590 585h3v1h-3zM696 585h2v1h-2zM990 585h1v1h-1zM593 586h2v1h-2zM695 586h1v1h-1zM989 586h1v1h-1zM595 587h3v1h-3zM693 587h2v1h-2zM988 587h1v1h-1zM598 588h2v1h-2zM692 588h1v1h-1zM600 589h1v1h-1zM691 589h1v1h-1zM601 590h2v1h-2zM689 590h2v1h-2zM986 590h1v1h-1zM603 591h1v1h-1zM688 591h1v1h-1zM985 591h1v1h-1zM604 592h1v1h-1zM683 592h5v1h-5zM984 592h1v1h-1zM605 593h2v1h-2zM677 593h6v1h-6zM983 593h1v1h-1zM607 594h1v1h-1zM673 594h4v1h-4zM982 594h1v1h-1zM608 595h2v1h-2zM667 595h6v1h-6zM894 595h10v1h-10zM981 595h1v1h-1zM610 596h2v1h-2zM661 596h6v1h-6zM892 596h2v1h-2zM904 596h2v1h-2zM980 596h1v1h-1zM612 597h2v1h-2zM657 597h4v1h-4zM890 597h2v1h-2zM906 597h2v1h-2zM979 597h1v1h-1zM614 598h5v1h-5zM653 598h4v1h-4zM888 598h2v1h-2zM908 598h2v1h-2zM978 598h1v1h-1zM619 599h6v1h-6zM649 599h4v1h-4zM886 599h2v1h-2zM910 599h2v1h-2zM977 599h1v1h-1zM625 600h2v1h-2zM645 600h4v1h-4zM883 600h3v1h-3zM912 600h1v1h-1zM976 600h1v1h-1zM627 601h3v1h-3zM641 601h4v1h-4zM881 601h2v1h-2zM913 601h2v1h-2zM975 601h1v1h-1zM630 602h11v1h-11zM875 602h6v1h-6zM915 602h1v1h-1zM974 602h1v1h-1zM800 604h1v1h-1zM869 604h2v1h-2zM917 604h2v1h-2zM972 604h1v1h-1zM801 605h2v1h-2zM867 605h2v1h-2zM919 605h2v1h-2zM971 605h1v1h-1zM803 606h3v1h-3zM866 606h1v1h-1zM921 606h2v1h-2zM970 606h1v1h-1zM806 607h2v1h-2zM864 607h2v1h-2zM923 607h3v1h-3zM969 607h1v1h-1zM808 608h1v1h-1zM862 608h2v1h-2zM926 608h3v1h-3zM968 608h1v1h-1zM809 609h1v1h-1zM859 609h3v1h-3zM929 609h2v1h-2zM967 609h1v1h-1zM810 610h1v1h-1zM857 610h2v1h-2zM931 610h3v1h-3zM965 610h2v1h-2zM811 611h1v1h-1zM855 611h2v1h-2zM934 611h2v1h-2zM963 611h2v1h-2zM812 612h1v1h-1zM853 612h2v1h-2zM936 612h2v1h-2zM962 612h1v1h-1zM813 613h1v1h-1zM852 613h1v1h-1zM938 613h2v1h-2zM960 613h2v1h-2zM814 614h1v1h-1zM851 614h1v1h-1zM940 614h2v1h-2zM947 614h13v1h-13zM815 615h2v1h-2zM849 615h2v1h-2zM942 615h5v1h-5zM817 616h4v1h-4zM848 616h1v1h-1zM821 617h27v1h-27zM871 603h4v1h-4zM916 603h1v1h-1zM973 603h1v1h-1zM1183 489h1v1h-1z" fill="#ececec"/>
<path d="M1171 537h1v2h-1zM95 570h4v1h-4zM123 570h16v1h-16zM539 570h8v1h-8zM752 570h2v1h-2zM793 570h1v1h-1zM1069 570h6v1h-6zM99 569h24v1h-24zM139 569h8v1h-8zM523 569h16v1h-16zM754 569h2v1h-2zM792 569h1v1h-1zM1075 569h8v1h-8zM147 568h6v1h-6zM517 568h6v1h-6zM756 568h2v1h-2zM790 568h2v1h-2zM1083 568h8v1h-8zM153 567h4v1h-4zM513 567h4v1h-4zM758 567h2v1h-2zM788 567h2v1h-2zM1091 567h8v1h-8zM157 566h4v1h-4zM507 566h6v1h-6zM760 566h2v1h-2zM786 566h2v1h-2zM1099 566h6v1h-6zM161 565h2v1h-2zM501 565h6v1h-6zM762 565h2v1h-2zM784 565h2v1h-2zM1105 565h2v1h-2zM163 564h3v1h-3zM497 564h4v1h-4zM764 564h2v1h-2zM781 564h3v1h-3zM1107 564h3v1h-3zM166 563h3v1h-3zM493 563h4v1h-4zM766 563h5v1h-5zM777 563h4v1h-4zM1110 563h5v1h-5zM169 562h4v1h-4zM489 562h4v1h-4zM771 562h6v1h-6zM1115 562h6v1h-6zM173 561h6v1h-6zM486 561h3v1h-3zM1121 561h4v1h-4zM179 560h8v1h-8zM483 560h3v1h-3zM1125 560h4v1h-4zM187 559h8v1h-8zM481 559h2v1h-2zM1129 559h2v1h-2zM195 558h16v1h-16zM477 558h4v1h-4zM1131 558h3v1h-3zM211 557h8v1h-8zM473 557h4v1h-4zM1134 557h3v1h-3zM219 556h8v1h-8zM470 556h3v1h-3zM1137 556h2v1h-2zM227 555h8v1h-8zM468 555h2v1h-2zM1139 555h3v1h-3zM235 554h6v1h-6zM466 554h2v1h-2zM1142 554h3v1h-3zM241 553h4v1h-4zM464 553h2v1h-2zM1145 553h2v1h-2zM245 552h4v1h-4zM462 552h2v1h-2zM1147 552h3v1h-3zM249 551h2v1h-2zM460 551h2v1h-2zM1150 551h2v1h-2zM251 550h3v1h-3zM458 550h2v1h-2zM1152 550h2v1h-2zM254 549h3v1h-3zM456 549h2v1h-2zM1154 549h1v1h-1zM257 548h4v1h-4zM455 548h1v1h-1zM1155 548h2v1h-2zM261 547h3v1h-3zM453 547h2v1h-2zM1157 547h2v1h-2zM264 546h2v1h-2zM451 546h2v1h-2zM1159 546h1v1h-1zM266 545h2v1h-2zM450 545h1v1h-1zM1160 545h2v1h-2zM268 544h2v1h-2zM448 544h2v1h-2zM1162 544h2v1h-2zM270 543h3v1h-3zM447 543h1v1h-1zM1164 543h2v1h-2zM273 542h2v1h-2zM445 542h2v1h-2zM1166 542h2v1h-2zM275 541h3v1h-3zM443 541h2v1h-2zM1168 541h1v1h-1zM278 540h3v1h-3zM442 540h1v1h-1zM1169 540h1v1h-1zM281 539h2v1h-2zM440 539h2v1h-2zM1170 539h1v1h-1zM283 538h3v1h-3zM438 538h2v1h-2zM286 537h2v1h-2zM436 537h2v1h-2zM288 536h2v1h-2zM434 536h2v1h-2zM1172 536h1v1h-1zM290 535h2v1h-2zM432 535h2v1h-2zM1173 535h1v1h-1zM292 534h2v1h-2zM430 534h2v1h-2zM1174 534h1v1h-1zM294 533h2v1h-2zM428 533h2v1h-2zM1175 533h1v1h-1zM296 532h2v1h-2zM426 532h2v1h-2zM1176 532h1v1h-1zM298 531h2v1h-2zM424 531h2v1h-2zM1177 531h1v1h-1zM300 530h2v1h-2zM422 530h2v1h-2zM1178 530h1v1h-1zM302 529h2v1h-2zM420 529h2v1h-2zM1179 529h1v1h-1zM304 528h2v1h-2zM418 528h2v1h-2zM1180 528h1v1h-1zM306 527h2v1h-2zM416 527h2v1h-2zM1181 527h1v1h-1zM308 526h2v1h-2zM414 526h2v1h-2zM1182 526h1v1h-1zM310 525h2v1h-2zM412 525h2v1h-2zM1183 525h1v1h-1zM312 524h2v1h-2zM410 524h2v1h-2zM314 523h2v1h-2zM408 523h2v1h-2zM316 522h2v1h-2zM406 522h2v1h-2zM318 521h2v1h-2zM404 521h2v1h-2zM320 520h2v1h-2zM402 520h2v1h-2zM322 519h1v1h-1zM400 519h2v1h-2zM323 518h2v1h-2zM398 518h2v1h-2zM325 517h2v1h-2zM396 517h2v1h-2zM327 516h1v1h-1zM394 516h2v1h-2zM328 515h2v1h-2zM392 515h2v1h-2zM330 514h2v1h-2zM390 514h2v1h-2zM332 513h2v1h-2zM388 513h2v1h-2zM334 512h2v1h-2zM386 512h2v1h-2zM336 511h2v1h-2zM384 511h2v1h-2zM338 510h2v1h-2zM381 510h3v1h-3zM340 509h2v1h-2zM377 509h4v1h-4zM342 508h3v1h-3zM373 508h4v1h-4zM345 507h4v1h-4zM369 507h4v1h-4zM349 506h20v1h-20zM547 571h8v1h-8zM750 571h2v1h-2zM794 571h1v1h-1zM1065 571h4v1h-4zM555 572h6v1h-6zM748 572h2v1h-2zM795 572h1v1h-1zM1059 572h6v1h-6zM561 573h4v1h-4zM746 573h2v1h-2zM796 573h1v1h-1zM1051 573h8v1h-8zM565 574h6v1h-6zM744 574h2v1h-2zM797 574h1v1h-1zM1045 574h6v1h-6zM571 575h6v1h-6zM742 575h2v1h-2zM798 575h1v1h-1zM1041 575h4v1h-4zM577 576h4v1h-4zM739 576h3v1h-3zM799 576h1v1h-1zM1038 576h3v1h-3zM581 577h6v1h-6zM737 577h2v1h-2zM800 577h1v1h-1zM1036 577h2v1h-2zM587 578h6v1h-6zM734 578h3v1h-3zM801 578h1v1h-1zM1034 578h2v1h-2zM593 579h4v1h-4zM731 579h3v1h-3zM802 579h1v1h-1zM1032 579h2v1h-2zM597 580h4v1h-4zM729 580h2v1h-2zM803 580h2v1h-2zM1030 580h2v1h-2zM601 581h2v1h-2zM726 581h3v1h-3zM805 581h1v1h-1zM1028 581h2v1h-2zM603 582h3v1h-3zM724 582h2v1h-2zM806 582h1v1h-1zM1026 582h2v1h-2zM606 583h3v1h-3zM722 583h2v1h-2zM807 583h1v1h-1zM1024 583h2v1h-2zM609 584h2v1h-2zM720 584h2v1h-2zM808 584h1v1h-1zM1022 584h2v1h-2zM611 585h3v1h-3zM718 585h2v1h-2zM809 585h2v1h-2zM1020 585h2v1h-2zM614 586h3v1h-3zM715 586h3v1h-3zM811 586h1v1h-1zM1018 586h2v1h-2zM617 587h2v1h-2zM713 587h2v1h-2zM812 587h1v1h-1zM1016 587h2v1h-2zM619 588h3v1h-3zM709 588h4v1h-4zM813 588h2v1h-2zM1014 588h2v1h-2zM622 589h3v1h-3zM705 589h4v1h-4zM815 589h1v1h-1zM1012 589h2v1h-2zM625 590h4v1h-4zM701 590h4v1h-4zM816 590h2v1h-2zM1010 590h2v1h-2zM629 591h4v1h-4zM697 591h4v1h-4zM818 591h2v1h-2zM1008 591h2v1h-2zM633 592h4v1h-4zM694 592h3v1h-3zM820 592h2v1h-2zM1006 592h2v1h-2zM637 593h4v1h-4zM691 593h3v1h-3zM822 593h2v1h-2zM1004 593h2v1h-2zM641 594h4v1h-4zM689 594h2v1h-2zM824 594h2v1h-2zM1002 594h2v1h-2zM645 595h6v1h-6zM675 595h14v1h-14zM826 595h1v1h-1zM1000 595h2v1h-2zM651 596h24v1h-24zM827 596h2v1h-2zM998 596h2v1h-2zM829 597h2v1h-2zM996 597h2v1h-2zM831 598h1v1h-1zM994 598h2v1h-2zM832 599h2v1h-2zM992 599h2v1h-2zM834 600h2v1h-2zM907 600h8v1h-8zM990 600h2v1h-2zM836 601h2v1h-2zM899 601h8v1h-8zM915 601h6v1h-6zM988 601h2v1h-2zM838 602h2v1h-2zM893 602h6v1h-6zM921 602h4v1h-4zM986 602h2v1h-2zM840 603h2v1h-2zM889 603h4v1h-4zM925 603h6v1h-6zM984 603h2v1h-2zM842 604h2v1h-2zM883 604h6v1h-6zM931 604h6v1h-6zM982 604h2v1h-2zM844 605h2v1h-2zM875 605h8v1h-8zM937 605h4v1h-4zM980 605h2v1h-2zM846 606h5v1h-5zM867 606h8v1h-8zM941 606h4v1h-4zM978 606h2v1h-2zM851 607h16v1h-16zM945 607h4v1h-4zM976 607h2v1h-2zM949 608h6v1h-6zM971 608h5v1h-5zM955 609h16v1h-16z" fill="#e6e600"/>
<path d="M135 710h1v2h-1zM136 708h1v2h-1zM137 706h1v2h-1zM138 704h1v2h-1zM139 702h1v2h-1zM140 700h1v2h-1zM141 698h1v2h-1zM142 696h1v2h-1zM143 694h1v2h-1zM147 689h1v2h-1zM232 692h1v2h-1zM235 688h1v2h-1zM238 684h1v2h-1zM243 678h1v2h-1zM363 692h1v2h-1zM368 698h1v2h-1zM369 700h1v2h-1zM371 703h1v2h-1zM373 706h1v2h-1zM374 708h1v2h-1zM465 725h1v2h-1zM469 720h1v2h-1zM475 713h1v2h-1zM536 697h1v2h-1zM537 699h1v2h-1zM538 701h1v2h-1zM540 704h1v2h-1zM541 706h1v2h-1zM542 708h1v2h-1zM659 709h1v2h-1zM667 700h1v2h-1zM688 695h1v2h-1zM689 693h1v2h-1zM690 691h1v2h-1zM692 688h1v2h-1zM693 686h1v2h-1zM694 684h1v2h-1zM767 670h1v2h-1zM768 672h1v2h-1zM769 674h1v3h-1zM770 677h1v3h-1zM771 680h1v2h-1zM772 682h1v3h-1zM773 685h1v3h-1zM774 688h1v2h-1zM775 690h1v2h-1zM776 692h1v2h-1zM779 696h1v2h-1zM782 700h1v2h-1zM787 706h1v2h-1zM795 715h1v2h-1zM848 700h1v2h-1zM849 698h1v2h-1zM850 696h1v2h-1zM851 694h1v2h-1zM852 692h1v2h-1zM853 690h1v2h-1zM854 688h1v2h-1zM855 686h1v2h-1zM904 691h1v2h-1zM905 693h1v2h-1zM906 695h1v2h-1zM907 697h1v2h-1zM908 699h1v2h-1zM909 701h1v2h-1zM910 703h1v2h-1zM913 707h1v2h-1zM917 712h1v2h-1zM968 702h1v2h-1zM969 700h1v2h-1zM970 698h1v2h-1zM972 695h1v2h-1zM973 693h1v2h-1zM974 691h1v2h-1zM985 681h1v2h-1zM989 676h1v2h-1zM1032 677h1v2h-1zM1035 681h1v2h-1zM1038 685h1v2h-1zM1040 688h1v2h-1zM1041 690h1v2h-1zM1042 692h1v2h-1zM1044 695h1v2h-1zM1045 697h1v2h-1zM1046 699h1v2h-1zM1096 712h1v2h-1zM1097 710h1v2h-1zM1098 708h1v2h-1zM1100 705h1v2h-1zM1101 703h1v2h-1zM1102 701h1v2h-1zM1104 698h1v2h-1zM1106 695h1v2h-1zM1108 692h1v2h-1zM1110 689h1v2h-1zM95 706h2v1h-2zM524 706h1v1h-1zM662 706h1v1h-1zM841 706h2v1h-2zM912 706h1v1h-1zM965 706h1v1h-1zM1066 706h1v1h-1zM1078 706h2v1h-2zM97 707h2v1h-2zM523 707h1v1h-1zM661 707h1v1h-1zM840 707h1v1h-1zM964 707h1v1h-1zM1067 707h2v1h-2zM1075 707h3v1h-3zM1080 707h2v1h-2zM1099 707h1v1h-1zM99 708h3v1h-3zM521 708h2v1h-2zM660 708h1v1h-1zM788 708h1v1h-1zM838 708h2v1h-2zM963 708h1v1h-1zM1069 708h2v1h-2zM1073 708h2v1h-2zM1082 708h1v1h-1zM102 709h2v1h-2zM479 709h1v1h-1zM520 709h1v1h-1zM789 709h1v1h-1zM835 709h3v1h-3zM914 709h1v1h-1zM962 709h1v1h-1zM1071 709h2v1h-2zM1083 709h2v1h-2zM104 710h2v1h-2zM375 710h1v1h-1zM478 710h1v1h-1zM480 710h1v1h-1zM519 710h1v1h-1zM543 710h9v1h-9zM790 710h1v1h-1zM833 710h2v1h-2zM915 710h1v1h-1zM961 710h1v1h-1zM1085 710h2v1h-2zM106 711h1v1h-1zM376 711h1v1h-1zM477 711h1v1h-1zM481 711h2v1h-2zM518 711h1v1h-1zM552 711h1v1h-1zM658 711h1v1h-1zM791 711h1v1h-1zM827 711h6v1h-6zM916 711h1v1h-1zM960 711h1v1h-1zM1087 711h2v1h-2zM107 712h2v1h-2zM134 712h1v1h-1zM377 712h1v1h-1zM476 712h1v1h-1zM483 712h1v1h-1zM517 712h1v1h-1zM553 712h1v1h-1zM657 712h1v1h-1zM792 712h1v1h-1zM821 712h6v1h-6zM955 712h5v1h-5zM1089 712h2v1h-2zM109 713h2v1h-2zM133 713h1v1h-1zM378 713h1v1h-1zM484 713h1v1h-1zM515 713h2v1h-2zM554 713h1v1h-1zM656 713h1v1h-1zM793 713h1v1h-1zM817 713h4v1h-4zM951 713h4v1h-4zM1091 713h3v1h-3zM111 714h1v1h-1zM131 714h2v1h-2zM379 714h2v1h-2zM485 714h2v1h-2zM514 714h1v1h-1zM555 714h2v1h-2zM647 714h9v1h-9zM794 714h1v1h-1zM807 714h10v1h-10zM918 714h1v1h-1zM923 714h6v1h-6zM949 714h2v1h-2zM1094 714h2v1h-2zM112 715h1v1h-1zM130 715h1v1h-1zM381 715h1v1h-1zM474 715h1v1h-1zM487 715h9v1h-9zM513 715h1v1h-1zM557 715h1v1h-1zM581 715h3v1h-3zM645 715h2v1h-2zM805 715h2v1h-2zM919 715h4v1h-4zM929 715h4v1h-4zM947 715h2v1h-2zM113 716h1v1h-1zM129 716h1v1h-1zM382 716h1v1h-1zM473 716h1v1h-1zM496 716h1v1h-1zM512 716h1v1h-1zM558 716h1v1h-1zM577 716h4v1h-4zM584 716h2v1h-2zM644 716h1v1h-1zM804 716h1v1h-1zM933 716h4v1h-4zM946 716h1v1h-1zM114 717h1v1h-1zM128 717h1v1h-1zM383 717h1v1h-1zM472 717h1v1h-1zM497 717h2v1h-2zM510 717h2v1h-2zM559 717h1v1h-1zM575 717h2v1h-2zM586 717h1v1h-1zM643 717h1v1h-1zM796 717h1v1h-1zM803 717h1v1h-1zM937 717h4v1h-4zM944 717h2v1h-2zM115 718h2v1h-2zM126 718h2v1h-2zM384 718h2v1h-2zM439 718h1v1h-1zM471 718h1v1h-1zM499 718h1v1h-1zM508 718h2v1h-2zM560 718h2v1h-2zM573 718h2v1h-2zM587 718h2v1h-2zM641 718h2v1h-2zM797 718h1v1h-1zM801 718h2v1h-2zM941 718h3v1h-3zM117 719h1v1h-1zM123 719h3v1h-3zM386 719h2v1h-2zM437 719h2v1h-2zM440 719h2v1h-2zM470 719h1v1h-1zM500 719h1v1h-1zM506 719h2v1h-2zM562 719h1v1h-1zM571 719h2v1h-2zM589 719h2v1h-2zM640 719h1v1h-1zM798 719h1v1h-1zM800 719h1v1h-1zM118 720h1v1h-1zM121 720h2v1h-2zM388 720h2v1h-2zM422 720h2v1h-2zM436 720h1v1h-1zM442 720h2v1h-2zM501 720h2v1h-2zM504 720h2v1h-2zM563 720h2v1h-2zM570 720h1v1h-1zM591 720h4v1h-4zM622 720h3v1h-3zM638 720h2v1h-2zM799 720h1v1h-1zM119 721h2v1h-2zM390 721h11v1h-11zM419 721h3v1h-3zM424 721h2v1h-2zM435 721h1v1h-1zM444 721h2v1h-2zM503 721h1v1h-1zM565 721h2v1h-2zM568 721h2v1h-2zM595 721h6v1h-6zM619 721h3v1h-3zM625 721h2v1h-2zM635 721h3v1h-3zM144 693h1v1h-1zM203 693h1v1h-1zM145 692h1v1h-1zM201 692h2v1h-2zM146 691h1v1h-1zM200 691h1v1h-1zM233 691h1v1h-1zM362 691h1v1h-1zM1109 691h1v1h-1zM148 688h1v1h-1zM193 688h2v1h-2zM359 688h1v1h-1zM901 688h1v1h-1zM977 688h2v1h-2zM1111 688h1v1h-1zM149 687h1v1h-1zM191 687h2v1h-2zM236 687h1v1h-1zM358 687h1v1h-1zM900 687h1v1h-1zM979 687h1v1h-1zM1039 687h1v1h-1zM1112 687h2v1h-2zM150 686h1v1h-1zM189 686h2v1h-2zM237 686h1v1h-1zM357 686h1v1h-1zM899 686h1v1h-1zM980 686h1v1h-1zM1114 686h2v1h-2zM151 685h1v1h-1zM187 685h2v1h-2zM355 685h2v1h-2zM856 685h1v1h-1zM898 685h1v1h-1zM981 685h2v1h-2zM1116 685h2v1h-2zM152 684h1v1h-1zM186 684h1v1h-1zM354 684h1v1h-1zM857 684h2v1h-2zM897 684h1v1h-1zM983 684h1v1h-1zM1037 684h1v1h-1zM1118 684h2v1h-2zM153 683h1v1h-1zM184 683h2v1h-2zM239 683h1v1h-1zM353 683h1v1h-1zM695 683h1v1h-1zM859 683h1v1h-1zM896 683h1v1h-1zM984 683h1v1h-1zM1036 683h1v1h-1zM1120 683h2v1h-2zM154 682h1v1h-1zM182 682h2v1h-2zM240 682h1v1h-1zM352 682h1v1h-1zM696 682h1v1h-1zM860 682h1v1h-1zM891 682h5v1h-5zM1122 682h1v1h-1zM155 681h1v1h-1zM180 681h2v1h-2zM241 681h1v1h-1zM351 681h1v1h-1zM697 681h1v1h-1zM861 681h2v1h-2zM886 681h5v1h-5zM1123 681h2v1h-2zM156 680h1v1h-1zM178 680h2v1h-2zM242 680h1v1h-1zM350 680h1v1h-1zM698 680h1v1h-1zM863 680h1v1h-1zM883 680h3v1h-3zM986 680h1v1h-1zM1034 680h1v1h-1zM1125 680h2v1h-2zM157 679h1v1h-1zM176 679h2v1h-2zM349 679h1v1h-1zM699 679h2v1h-2zM864 679h1v1h-1zM881 679h2v1h-2zM987 679h1v1h-1zM1033 679h1v1h-1zM1127 679h1v1h-1zM158 678h1v1h-1zM174 678h2v1h-2zM348 678h1v1h-1zM701 678h1v1h-1zM865 678h2v1h-2zM878 678h3v1h-3zM988 678h1v1h-1zM1128 678h1v1h-1zM159 677h2v1h-2zM172 677h2v1h-2zM244 677h1v1h-1zM347 677h1v1h-1zM702 677h1v1h-1zM867 677h1v1h-1zM876 677h2v1h-2zM1129 677h1v1h-1zM161 676h2v1h-2zM170 676h2v1h-2zM245 676h1v1h-1zM346 676h1v1h-1zM703 676h1v1h-1zM868 676h1v1h-1zM874 676h2v1h-2zM1027 676h5v1h-5zM1130 676h1v1h-1zM163 675h3v1h-3zM168 675h2v1h-2zM246 675h1v1h-1zM345 675h1v1h-1zM704 675h1v1h-1zM869 675h2v1h-2zM872 675h2v1h-2zM990 675h1v1h-1zM1019 675h8v1h-8zM1131 675h1v1h-1zM166 674h2v1h-2zM247 674h1v1h-1zM344 674h1v1h-1zM705 674h2v1h-2zM871 674h1v1h-1zM991 674h2v1h-2zM1013 674h6v1h-6zM1132 674h1v1h-1zM195 689h3v1h-3zM360 689h1v1h-1zM902 689h1v1h-1zM976 689h1v1h-1zM198 690h2v1h-2zM234 690h1v1h-1zM361 690h1v1h-1zM691 690h1v1h-1zM903 690h1v1h-1zM975 690h1v1h-1zM204 694h1v1h-1zM213 694h4v1h-4zM230 694h2v1h-2zM364 694h1v1h-1zM777 694h1v1h-1zM1043 694h1v1h-1zM1107 694h1v1h-1zM205 695h2v1h-2zM209 695h4v1h-4zM217 695h2v1h-2zM227 695h3v1h-3zM365 695h1v1h-1zM778 695h1v1h-1zM207 696h2v1h-2zM219 696h3v1h-3zM225 696h2v1h-2zM366 696h1v1h-1zM535 696h1v1h-1zM671 696h2v1h-2zM222 697h3v1h-3zM367 697h1v1h-1zM534 697h1v1h-1zM670 697h1v1h-1zM673 697h2v1h-2zM685 697h3v1h-3zM971 697h1v1h-1zM1105 697h1v1h-1zM248 673h2v1h-2zM343 673h1v1h-1zM707 673h1v1h-1zM993 673h2v1h-2zM1009 673h4v1h-4zM1133 673h1v1h-1zM250 672h2v1h-2zM341 672h2v1h-2zM708 672h1v1h-1zM995 672h3v1h-3zM1003 672h6v1h-6zM1134 672h1v1h-1zM252 671h2v1h-2zM286 671h5v1h-5zM339 671h2v1h-2zM709 671h2v1h-2zM998 671h5v1h-5zM1135 671h1v1h-1zM254 670h2v1h-2zM284 670h2v1h-2zM291 670h6v1h-6zM318 670h2v1h-2zM338 670h1v1h-1zM711 670h2v1h-2zM766 670h1v1h-1zM1136 670h1v1h-1zM256 669h2v1h-2zM270 669h3v1h-3zM282 669h2v1h-2zM297 669h4v1h-4zM316 669h2v1h-2zM320 669h2v1h-2zM336 669h2v1h-2zM713 669h4v1h-4zM764 669h2v1h-2zM1137 669h2v1h-2zM1182 669h2v1h-2zM258 668h2v1h-2zM267 668h3v1h-3zM273 668h4v1h-4zM280 668h2v1h-2zM301 668h4v1h-4zM314 668h2v1h-2zM322 668h2v1h-2zM333 668h3v1h-3zM717 668h4v1h-4zM743 668h2v1h-2zM762 668h2v1h-2zM1139 668h1v1h-1zM1150 668h2v1h-2zM1179 668h3v1h-3zM260 667h2v1h-2zM265 667h2v1h-2zM277 667h3v1h-3zM305 667h4v1h-4zM312 667h2v1h-2zM324 667h2v1h-2zM329 667h4v1h-4zM721 667h2v1h-2zM741 667h2v1h-2zM745 667h2v1h-2zM760 667h2v1h-2zM1140 667h1v1h-1zM1147 667h3v1h-3zM1152 667h2v1h-2zM1177 667h2v1h-2zM262 666h3v1h-3zM309 666h3v1h-3zM326 666h3v1h-3zM723 666h3v1h-3zM739 666h2v1h-2zM747 666h3v1h-3zM755 666h5v1h-5zM1141 666h2v1h-2zM1145 666h2v1h-2zM1154 666h1v1h-1zM1175 666h2v1h-2zM370 702h1v1h-1zM529 702h1v1h-1zM666 702h1v1h-1zM783 702h1v1h-1zM847 702h1v1h-1zM1051 702h6v1h-6zM372 705h1v1h-1zM525 705h2v1h-2zM663 705h1v1h-1zM786 705h1v1h-1zM843 705h1v1h-1zM911 705h1v1h-1zM966 705h1v1h-1zM1064 705h2v1h-2zM401 722h2v1h-2zM417 722h2v1h-2zM426 722h2v1h-2zM433 722h2v1h-2zM446 722h2v1h-2zM468 722h1v1h-1zM567 722h1v1h-1zM601 722h4v1h-4zM617 722h2v1h-2zM627 722h3v1h-3zM633 722h2v1h-2zM403 723h3v1h-3zM411 723h6v1h-6zM428 723h2v1h-2zM432 723h1v1h-1zM448 723h2v1h-2zM467 723h1v1h-1zM605 723h12v1h-12zM630 723h3v1h-3zM406 724h5v1h-5zM430 724h2v1h-2zM450 724h1v1h-1zM466 724h1v1h-1zM451 725h2v1h-2zM453 726h2v1h-2zM455 727h4v1h-4zM464 727h1v1h-1zM459 728h5v1h-5zM527 704h1v1h-1zM664 704h1v1h-1zM785 704h1v1h-1zM844 704h1v1h-1zM967 704h1v1h-1zM1061 704h3v1h-3zM528 703h1v1h-1zM539 703h1v1h-1zM665 703h1v1h-1zM784 703h1v1h-1zM845 703h2v1h-2zM1057 703h4v1h-4zM530 701h1v1h-1zM1047 701h4v1h-4zM531 700h1v1h-1zM1103 700h1v1h-1zM532 699h1v1h-1zM668 699h1v1h-1zM678 699h3v1h-3zM781 699h1v1h-1zM533 698h1v1h-1zM669 698h1v1h-1zM675 698h3v1h-3zM681 698h4v1h-4zM780 698h1v1h-1zM726 665h3v1h-3zM738 665h1v1h-1zM750 665h5v1h-5zM1143 665h2v1h-2zM1155 665h2v1h-2zM1173 665h2v1h-2zM729 664h4v1h-4zM736 664h2v1h-2zM1157 664h2v1h-2zM1171 664h2v1h-2zM733 663h3v1h-3zM1159 663h2v1h-2zM1170 663h1v1h-1zM1161 662h4v1h-4zM1168 662h2v1h-2zM1165 661h3v1h-3z" fill="#ececec"/>
<path d="M371 687h1v2h-1zM779 679h1v2h-1zM785 686h1v2h-1zM789 691h1v2h-1zM95 705h4v1h-4zM145 705h1v1h-1zM389 705h1v1h-1zM678 705h3v1h-3zM804 705h2v1h-2zM849 705h1v1h-1zM929 705h2v1h-2zM973 705h1v1h-1zM1086 705h3v1h-3zM1102 705h2v1h-2zM99 706h6v1h-6zM144 706h1v1h-1zM390 706h1v1h-1zM535 706h2v1h-2zM675 706h3v1h-3zM806 706h3v1h-3zM848 706h1v1h-1zM931 706h3v1h-3zM971 706h2v1h-2zM1089 706h2v1h-2zM1099 706h3v1h-3zM105 707h2v1h-2zM143 707h1v1h-1zM391 707h1v1h-1zM533 707h2v1h-2zM537 707h4v1h-4zM673 707h2v1h-2zM809 707h2v1h-2zM845 707h3v1h-3zM934 707h2v1h-2zM970 707h1v1h-1zM1091 707h3v1h-3zM1097 707h2v1h-2zM107 708h3v1h-3zM142 708h1v1h-1zM392 708h2v1h-2zM532 708h1v1h-1zM541 708h12v1h-12zM671 708h2v1h-2zM811 708h3v1h-3zM841 708h4v1h-4zM936 708h2v1h-2zM969 708h1v1h-1zM1094 708h3v1h-3zM110 709h2v1h-2zM141 709h1v1h-1zM394 709h1v1h-1zM531 709h1v1h-1zM553 709h2v1h-2zM669 709h2v1h-2zM814 709h5v1h-5zM835 709h6v1h-6zM938 709h1v1h-1zM968 709h1v1h-1zM112 710h2v1h-2zM139 710h2v1h-2zM395 710h2v1h-2zM529 710h2v1h-2zM555 710h3v1h-3zM667 710h2v1h-2zM819 710h16v1h-16zM939 710h2v1h-2zM965 710h3v1h-3zM114 711h2v1h-2zM138 711h1v1h-1zM397 711h2v1h-2zM528 711h1v1h-1zM558 711h2v1h-2zM666 711h1v1h-1zM941 711h2v1h-2zM961 711h4v1h-4zM116 712h2v1h-2zM137 712h1v1h-1zM399 712h1v1h-1zM526 712h2v1h-2zM560 712h2v1h-2zM664 712h2v1h-2zM943 712h18v1h-18zM118 713h5v1h-5zM136 713h1v1h-1zM400 713h2v1h-2zM523 713h3v1h-3zM562 713h2v1h-2zM662 713h2v1h-2zM123 714h13v1h-13zM402 714h2v1h-2zM521 714h2v1h-2zM564 714h2v1h-2zM660 714h2v1h-2zM146 704h1v1h-1zM387 704h2v1h-2zM681 704h2v1h-2zM802 704h2v1h-2zM850 704h1v1h-1zM926 704h3v1h-3zM974 704h1v1h-1zM1083 704h3v1h-3zM1104 704h2v1h-2zM147 703h2v1h-2zM386 703h1v1h-1zM683 703h3v1h-3zM800 703h2v1h-2zM851 703h2v1h-2zM924 703h2v1h-2zM975 703h1v1h-1zM1081 703h2v1h-2zM1106 703h1v1h-1zM149 702h1v1h-1zM385 702h1v1h-1zM686 702h2v1h-2zM799 702h1v1h-1zM853 702h1v1h-1zM922 702h2v1h-2zM976 702h1v1h-1zM1077 702h4v1h-4zM1107 702h2v1h-2zM150 701h1v1h-1zM384 701h1v1h-1zM688 701h1v1h-1zM798 701h1v1h-1zM854 701h1v1h-1zM920 701h2v1h-2zM977 701h1v1h-1zM1073 701h4v1h-4zM1109 701h2v1h-2zM151 700h1v1h-1zM383 700h1v1h-1zM689 700h1v1h-1zM797 700h1v1h-1zM855 700h1v1h-1zM919 700h1v1h-1zM978 700h1v1h-1zM1070 700h3v1h-3zM1111 700h1v1h-1zM152 699h1v1h-1zM382 699h1v1h-1zM690 699h1v1h-1zM796 699h1v1h-1zM856 699h1v1h-1zM918 699h1v1h-1zM979 699h2v1h-2zM1068 699h2v1h-2zM1112 699h1v1h-1zM153 698h1v1h-1zM381 698h1v1h-1zM691 698h2v1h-2zM795 698h1v1h-1zM857 698h2v1h-2zM917 698h1v1h-1zM981 698h1v1h-1zM1066 698h2v1h-2zM1113 698h2v1h-2zM154 697h1v1h-1zM380 697h1v1h-1zM693 697h1v1h-1zM794 697h1v1h-1zM859 697h1v1h-1zM916 697h1v1h-1zM982 697h1v1h-1zM1064 697h2v1h-2zM1115 697h1v1h-1zM155 696h1v1h-1zM379 696h1v1h-1zM694 696h1v1h-1zM793 696h1v1h-1zM860 696h1v1h-1zM915 696h1v1h-1zM983 696h1v1h-1zM1062 696h2v1h-2zM1116 696h1v1h-1zM156 695h1v1h-1zM378 695h1v1h-1zM695 695h1v1h-1zM792 695h1v1h-1zM861 695h2v1h-2zM914 695h1v1h-1zM984 695h1v1h-1zM1060 695h2v1h-2zM1117 695h2v1h-2zM157 694h1v1h-1zM377 694h1v1h-1zM696 694h1v1h-1zM791 694h1v1h-1zM863 694h1v1h-1zM913 694h1v1h-1zM985 694h1v1h-1zM1058 694h2v1h-2zM1119 694h1v1h-1zM158 693h1v1h-1zM221 693h6v1h-6zM376 693h1v1h-1zM697 693h1v1h-1zM790 693h1v1h-1zM864 693h1v1h-1zM912 693h1v1h-1zM986 693h1v1h-1zM1056 693h2v1h-2zM1120 693h2v1h-2zM159 692h1v1h-1zM217 692h4v1h-4zM227 692h6v1h-6zM375 692h1v1h-1zM698 692h1v1h-1zM865 692h1v1h-1zM911 692h1v1h-1zM987 692h1v1h-1zM1055 692h1v1h-1zM1122 692h2v1h-2zM160 691h1v1h-1zM211 691h6v1h-6zM233 691h2v1h-2zM374 691h1v1h-1zM699 691h2v1h-2zM866 691h1v1h-1zM910 691h1v1h-1zM988 691h1v1h-1zM1053 691h2v1h-2zM1124 691h2v1h-2zM161 690h2v1h-2zM206 690h5v1h-5zM235 690h3v1h-3zM373 690h1v1h-1zM701 690h1v1h-1zM788 690h1v1h-1zM867 690h2v1h-2zM909 690h1v1h-1zM989 690h1v1h-1zM1051 690h2v1h-2zM1126 690h2v1h-2zM163 689h1v1h-1zM204 689h2v1h-2zM238 689h2v1h-2zM372 689h1v1h-1zM702 689h1v1h-1zM787 689h1v1h-1zM869 689h1v1h-1zM907 689h2v1h-2zM990 689h1v1h-1zM1050 689h1v1h-1zM1128 689h1v1h-1zM164 688h1v1h-1zM202 688h2v1h-2zM240 688h2v1h-2zM703 688h1v1h-1zM786 688h1v1h-1zM870 688h1v1h-1zM906 688h1v1h-1zM991 688h1v1h-1zM1048 688h2v1h-2zM1129 688h2v1h-2zM165 687h2v1h-2zM200 687h2v1h-2zM242 687h1v1h-1zM704 687h2v1h-2zM871 687h2v1h-2zM905 687h1v1h-1zM992 687h1v1h-1zM1047 687h1v1h-1zM1131 687h1v1h-1zM167 686h2v1h-2zM197 686h3v1h-3zM243 686h2v1h-2zM370 686h1v1h-1zM706 686h1v1h-1zM873 686h2v1h-2zM904 686h1v1h-1zM993 686h2v1h-2zM1046 686h1v1h-1zM1132 686h1v1h-1zM169 685h2v1h-2zM193 685h4v1h-4zM245 685h2v1h-2zM369 685h1v1h-1zM707 685h2v1h-2zM784 685h1v1h-1zM875 685h3v1h-3zM902 685h2v1h-2zM995 685h1v1h-1zM1045 685h1v1h-1zM1133 685h2v1h-2zM171 684h3v1h-3zM187 684h6v1h-6zM247 684h1v1h-1zM368 684h1v1h-1zM709 684h2v1h-2zM783 684h1v1h-1zM878 684h3v1h-3zM899 684h3v1h-3zM996 684h1v1h-1zM1043 684h2v1h-2zM1135 684h1v1h-1zM174 683h13v1h-13zM248 683h2v1h-2zM367 683h1v1h-1zM711 683h1v1h-1zM782 683h1v1h-1zM881 683h4v1h-4zM897 683h2v1h-2zM997 683h2v1h-2zM1042 683h1v1h-1zM1136 683h1v1h-1zM250 682h1v1h-1zM365 682h2v1h-2zM712 682h2v1h-2zM781 682h1v1h-1zM885 682h12v1h-12zM999 682h2v1h-2zM1041 682h1v1h-1zM1137 682h1v1h-1zM251 681h2v1h-2zM364 681h1v1h-1zM714 681h1v1h-1zM780 681h1v1h-1zM1001 681h2v1h-2zM1040 681h1v1h-1zM1138 681h1v1h-1zM253 680h2v1h-2zM363 680h1v1h-1zM715 680h2v1h-2zM1003 680h3v1h-3zM1038 680h2v1h-2zM1139 680h2v1h-2zM255 679h1v1h-1zM361 679h2v1h-2zM717 679h2v1h-2zM1006 679h5v1h-5zM1036 679h2v1h-2zM1141 679h1v1h-1zM256 678h2v1h-2zM360 678h1v1h-1zM719 678h1v1h-1zM778 678h1v1h-1zM1011 678h8v1h-8zM1034 678h2v1h-2zM1142 678h1v1h-1zM258 677h1v1h-1zM358 677h2v1h-2zM720 677h2v1h-2zM777 677h1v1h-1zM1019 677h8v1h-8zM1032 677h2v1h-2zM1143 677h1v1h-1zM259 676h2v1h-2zM356 676h2v1h-2zM722 676h1v1h-1zM776 676h1v1h-1zM1027 676h5v1h-5zM1144 676h2v1h-2zM261 675h2v1h-2zM354 675h2v1h-2zM723 675h2v1h-2zM775 675h1v1h-1zM1146 675h2v1h-2zM263 674h2v1h-2zM352 674h2v1h-2zM725 674h2v1h-2zM774 674h1v1h-1zM1148 674h2v1h-2zM265 673h4v1h-4zM350 673h2v1h-2zM727 673h2v1h-2zM773 673h1v1h-1zM1150 673h3v1h-3zM269 672h4v1h-4zM348 672h2v1h-2zM729 672h2v1h-2zM771 672h2v1h-2zM1153 672h2v1h-2zM273 671h4v1h-4zM283 671h8v1h-8zM346 671h2v1h-2zM731 671h3v1h-3zM770 671h1v1h-1zM1155 671h3v1h-3zM277 670h6v1h-6zM291 670h16v1h-16zM344 670h2v1h-2zM734 670h5v1h-5zM769 670h1v1h-1zM1158 670h3v1h-3zM307 669h16v1h-16zM339 669h5v1h-5zM739 669h8v1h-8zM768 669h1v1h-1zM1161 669h2v1h-2zM323 668h16v1h-16zM747 668h8v1h-8zM763 668h5v1h-5zM1163 668h3v1h-3zM1179 668h5v1h-5zM404 715h2v1h-2zM518 715h3v1h-3zM566 715h5v1h-5zM579 715h6v1h-6zM658 715h2v1h-2zM406 716h3v1h-3zM515 716h3v1h-3zM571 716h8v1h-8zM585 716h4v1h-4zM656 716h2v1h-2zM409 717h4v1h-4zM483 717h16v1h-16zM513 717h2v1h-2zM589 717h6v1h-6zM653 717h3v1h-3zM413 718h6v1h-6zM478 718h5v1h-5zM499 718h14v1h-14zM595 718h6v1h-6zM649 718h4v1h-4zM419 719h8v1h-8zM476 719h2v1h-2zM601 719h4v1h-4zM645 719h4v1h-4zM427 720h22v1h-22zM474 720h2v1h-2zM605 720h6v1h-6zM641 720h4v1h-4zM449 721h2v1h-2zM472 721h2v1h-2zM611 721h30v1h-30zM451 722h3v1h-3zM469 722h3v1h-3zM454 723h5v1h-5zM465 723h4v1h-4zM459 724h6v1h-6zM755 667h8v1h-8zM1166 667h13v1h-13z" fill="#e6e600"/>
<path d="M107 719h1v2h-1zM112 725h1v2h-1zM113 727h1v2h-1zM115 730h1v2h-1zM117 733h1v2h-1zM118 735h1v2h-1zM120 735h1v2h-1zM122 732h1v2h-1zM124 729h1v2h-1zM126 726h1v2h-1zM128 723h1v2h-1zM129 721h1v2h-1zM130 719h1v2h-1zM132 716h1v2h-1zM133 714h1v2h-1zM134 712h1v2h-1zM135 709h1v3h-1zM136 703h1v6h-1zM137 698h1v5h-1zM138 693h1v5h-1zM139 687h1v6h-1zM140 682h1v5h-1zM141 677h1v5h-1zM142 671h1v6h-1zM143 668h1v3h-1zM144 666h1v2h-1zM147 662h1v2h-1zM150 658h1v2h-1zM152 655h1v2h-1zM155 651h1v2h-1zM158 647h1v2h-1zM167 649h1v2h-1zM168 651h1v2h-1zM169 653h1v2h-1zM170 655h1v2h-1zM171 657h1v3h-1zM172 660h1v2h-1zM173 662h1v2h-1zM174 664h1v2h-1zM175 666h1v2h-1zM176 668h1v2h-1zM177 670h1v2h-1zM178 672h1v2h-1zM180 675h1v2h-1zM181 677h1v2h-1zM182 679h1v2h-1zM184 682h1v2h-1zM186 685h1v2h-1zM188 688h1v2h-1zM190 691h1v2h-1zM200 699h1v2h-1zM203 703h1v2h-1zM206 707h1v2h-1zM209 706h1v2h-1zM213 701h1v2h-1zM224 704h1v2h-1zM226 701h1v2h-1zM228 698h1v2h-1zM230 695h1v2h-1zM231 693h1v2h-1zM232 690h1v3h-1zM233 687h1v3h-1zM234 684h1v3h-1zM235 682h1v2h-1zM236 679h1v3h-1zM237 676h1v3h-1zM238 673h1v3h-1zM239 671h1v2h-1zM240 669h1v2h-1zM241 667h1v2h-1zM242 665h1v2h-1zM243 663h1v2h-1zM244 661h1v2h-1zM245 659h1v2h-1zM246 657h1v2h-1zM247 655h1v2h-1zM264 648h1v2h-1zM265 650h1v2h-1zM267 653h1v2h-1zM269 656h1v2h-1zM270 658h1v2h-1zM280 657h1v2h-1zM281 659h1v2h-1zM282 661h1v2h-1zM283 663h1v2h-1zM284 665h1v2h-1zM285 667h1v2h-1zM286 669h1v2h-1zM287 671h1v2h-1zM312 660h1v2h-1zM313 662h1v2h-1zM314 664h1v2h-1zM316 667h1v2h-1zM317 669h1v2h-1zM318 671h1v2h-1zM320 671h1v2h-1zM322 668h1v2h-1zM324 665h1v2h-1zM326 662h1v2h-1zM337 669h1v2h-1zM341 674h1v2h-1zM344 678h1v2h-1zM345 680h1v2h-1zM346 682h1v2h-1zM347 684h1v2h-1zM348 686h1v2h-1zM349 688h1v2h-1zM350 690h1v2h-1zM355 696h1v2h-1zM359 701h1v2h-1zM360 703h1v2h-1zM361 705h1v2h-1zM362 707h1v3h-1zM363 710h1v2h-1zM364 712h1v3h-1zM365 715h1v2h-1zM366 717h1v2h-1zM367 719h1v3h-1zM368 722h1v3h-1zM369 725h1v3h-1zM370 728h1v3h-1zM371 731h1v3h-1zM372 734h1v3h-1zM373 737h1v3h-1zM374 740h1v3h-1zM375 743h1v2h-1zM393 746h1v2h-1zM397 741h1v2h-1zM416 731h1v2h-1zM418 728h1v2h-1zM420 725h1v2h-1zM422 722h1v2h-1zM425 723h1v2h-1zM429 728h1v2h-1zM431 730h1v2h-1zM432 728h1v2h-1zM433 726h1v2h-1zM434 724h1v2h-1zM435 722h1v2h-1zM436 720h1v2h-1zM437 718h1v2h-1zM438 716h1v2h-1zM439 714h1v2h-1zM440 715h1v2h-1zM443 719h1v2h-1zM446 723h1v2h-1zM448 726h1v2h-1zM450 729h1v2h-1zM452 732h1v2h-1zM454 735h1v2h-1zM463 733h1v2h-1zM464 731h1v2h-1zM465 728h1v3h-1zM466 725h1v3h-1zM467 723h1v2h-1zM468 720h1v3h-1zM469 717h1v3h-1zM470 715h1v2h-1zM471 712h1v3h-1zM472 709h1v3h-1zM473 707h1v2h-1zM474 704h1v3h-1zM475 701h1v3h-1zM476 698h1v3h-1zM477 696h1v2h-1zM478 693h1v3h-1zM479 691h1v2h-1zM480 693h1v2h-1zM481 695h1v2h-1zM482 697h1v3h-1zM483 700h1v2h-1zM484 702h1v3h-1zM485 705h1v2h-1zM486 707h1v2h-1zM487 709h1v2h-1zM496 714h1v2h-1zM497 716h1v2h-1zM499 719h1v2h-1zM501 722h1v2h-1zM502 724h1v2h-1zM504 724h1v2h-1zM507 720h1v2h-1zM510 716h1v2h-1zM512 713h1v2h-1zM513 711h1v2h-1zM514 709h1v2h-1zM515 707h1v2h-1zM516 705h1v2h-1zM517 703h1v2h-1zM518 701h1v2h-1zM520 698h1v2h-1zM522 695h1v2h-1zM524 692h1v2h-1zM526 689h1v2h-1zM528 686h1v2h-1zM529 684h1v2h-1zM531 681h1v2h-1zM533 678h1v2h-1zM534 676h1v2h-1zM535 675h1v3h-1zM536 678h1v5h-1zM537 683h1v5h-1zM538 688h1v5h-1zM539 693h1v4h-1zM540 697h1v5h-1zM541 702h1v5h-1zM542 707h1v5h-1zM543 712h1v3h-1zM552 715h1v2h-1zM553 717h1v2h-1zM554 719h1v2h-1zM556 722h1v2h-1zM557 724h1v2h-1zM558 726h1v2h-1zM567 735h1v2h-1zM568 733h1v2h-1zM569 731h1v2h-1zM570 729h1v2h-1zM571 726h1v3h-1zM572 724h1v2h-1zM573 722h1v2h-1zM574 720h1v2h-1zM575 718h1v2h-1zM584 715h1v2h-1zM586 718h1v2h-1zM588 721h1v2h-1zM590 724h1v2h-1zM619 723h1v2h-1zM640 718h1v2h-1zM641 716h1v2h-1zM642 714h1v2h-1zM643 712h1v2h-1zM644 710h1v2h-1zM645 708h1v2h-1zM646 706h1v2h-1zM647 704h1v2h-1zM655 707h1v2h-1zM656 705h1v2h-1zM657 703h1v2h-1zM658 701h1v2h-1zM659 698h1v3h-1zM660 696h1v2h-1zM661 694h1v2h-1zM662 692h1v2h-1zM663 689h1v3h-1zM664 687h1v2h-1zM665 685h1v2h-1zM666 683h1v2h-1zM667 681h1v2h-1zM668 679h1v2h-1zM669 677h1v2h-1zM670 675h1v2h-1zM671 673h1v2h-1zM672 674h1v2h-1zM673 676h1v2h-1zM674 678h1v2h-1zM675 680h1v2h-1zM676 682h1v2h-1zM677 684h1v2h-1zM678 686h1v2h-1zM687 685h1v2h-1zM688 681h1v4h-1zM689 678h1v3h-1zM690 674h1v4h-1zM691 671h1v3h-1zM692 667h1v4h-1zM693 664h1v3h-1zM694 660h1v4h-1zM695 658h1v2h-1zM736 650h1v2h-1zM737 652h1v2h-1zM738 654h1v2h-1zM739 656h1v2h-1zM740 658h1v2h-1zM741 660h1v2h-1zM742 662h1v2h-1zM743 664h1v2h-1zM760 664h1v2h-1zM761 666h1v2h-1zM762 668h1v2h-1zM764 671h1v2h-1zM765 673h1v2h-1zM766 675h1v2h-1zM767 677h1v3h-1zM768 680h1v6h-1zM769 686h1v6h-1zM770 692h1v5h-1zM771 697h1v6h-1zM772 703h1v5h-1zM773 708h1v6h-1zM774 714h1v6h-1zM775 720h1v3h-1zM776 723h1v2h-1zM777 725h1v2h-1zM778 727h1v2h-1zM779 729h1v2h-1zM780 731h1v2h-1zM781 733h1v2h-1zM782 735h1v2h-1zM783 737h1v2h-1zM799 752h1v2h-1zM800 749h1v3h-1zM801 746h1v3h-1zM802 743h1v3h-1zM803 739h1v4h-1zM804 736h1v3h-1zM805 733h1v3h-1zM806 730h1v3h-1zM807 728h1v2h-1zM840 703h1v2h-1zM841 701h1v2h-1zM843 698h1v2h-1zM845 695h1v2h-1zM846 693h1v2h-1zM847 691h1v2h-1zM848 687h1v4h-1zM849 683h1v4h-1zM850 679h1v4h-1zM851 675h1v4h-1zM852 671h1v4h-1zM853 667h1v4h-1zM854 663h1v4h-1zM855 660h1v3h-1zM871 647h1v2h-1zM872 649h1v3h-1zM873 652h1v2h-1zM874 654h1v3h-1zM875 657h1v3h-1zM876 660h1v3h-1zM877 663h1v2h-1zM878 665h1v3h-1zM879 668h1v2h-1zM883 673h1v2h-1zM895 679h1v2h-1zM896 681h1v2h-1zM897 683h1v2h-1zM898 685h1v2h-1zM899 687h1v2h-1zM900 689h1v2h-1zM901 691h1v2h-1zM902 693h1v2h-1zM903 695h1v4h-1zM904 699h1v4h-1zM905 703h1v4h-1zM906 707h1v4h-1zM907 711h1v5h-1zM908 716h1v4h-1zM909 720h1v4h-1zM910 724h1v4h-1zM911 728h1v3h-1zM912 731h1v2h-1zM913 733h1v2h-1zM914 735h1v2h-1zM915 737h1v2h-1zM916 739h1v2h-1zM917 741h1v2h-1zM918 743h1v2h-1zM919 745h1v2h-1zM920 744h1v2h-1zM923 740h1v2h-1zM926 736h1v2h-1zM944 729h1v2h-1zM945 727h1v2h-1zM946 725h1v2h-1zM947 723h1v2h-1zM948 721h1v2h-1zM949 719h1v2h-1zM950 717h1v2h-1zM951 715h1v2h-1zM959 712h1v2h-1zM960 710h1v2h-1zM961 708h1v2h-1zM962 706h1v2h-1zM963 704h1v2h-1zM964 702h1v2h-1zM965 700h1v2h-1zM966 698h1v2h-1zM967 695h1v3h-1zM968 691h1v4h-1zM969 687h1v4h-1zM970 683h1v4h-1zM971 679h1v4h-1zM972 675h1v4h-1zM973 671h1v4h-1zM974 667h1v4h-1zM975 664h1v3h-1zM984 655h1v2h-1zM985 653h1v2h-1zM987 650h1v2h-1zM989 647h1v2h-1zM990 645h1v2h-1zM1000 647h1v2h-1zM1001 649h1v2h-1zM1003 652h1v2h-1zM1005 655h1v2h-1zM1006 657h1v2h-1zM1011 663h1v2h-1zM1031 674h1v2h-1zM1032 676h1v4h-1zM1033 680h1v3h-1zM1034 683h1v3h-1zM1035 686h1v4h-1zM1036 690h1v3h-1zM1037 693h1v3h-1zM1038 696h1v4h-1zM1039 700h1v3h-1zM1040 703h1v4h-1zM1041 707h1v3h-1zM1042 710h1v3h-1zM1043 713h1v4h-1zM1044 717h1v3h-1zM1045 720h1v3h-1zM1046 723h1v4h-1zM1047 727h1v2h-1zM1072 723h1v2h-1zM1075 719h1v2h-1zM1078 715h1v2h-1zM1083 718h1v2h-1zM1095 725h1v2h-1zM1096 721h1v4h-1zM1097 717h1v4h-1zM1098 713h1v4h-1zM1099 709h1v4h-1zM1100 705h1v4h-1zM1101 701h1v4h-1zM1102 697h1v4h-1zM1103 694h1v3h-1zM1104 690h1v4h-1zM1105 686h1v4h-1zM1106 683h1v3h-1zM1107 679h1v4h-1zM1108 676h1v3h-1zM1109 672h1v4h-1zM1110 668h1v4h-1zM1111 666h1v2h-1zM1128 657h1v2h-1zM1129 655h1v2h-1zM1130 653h1v2h-1zM1132 650h1v2h-1zM1133 648h1v2h-1zM1134 646h1v2h-1zM1144 642h1v2h-1zM1145 644h1v2h-1zM1146 646h1v2h-1zM1148 649h1v2h-1zM1149 651h1v2h-1zM1150 653h1v2h-1zM1168 650h1v2h-1zM1169 652h1v2h-1zM1170 654h1v2h-1zM1171 656h1v2h-1zM1172 658h1v2h-1zM1173 660h1v2h-1zM1174 662h1v2h-1zM1175 664h1v2h-1zM95 709h1v1h-1zM207 709h1v1h-1zM833 709h2v1h-2zM96 710h1v1h-1zM488 710h1v1h-1zM832 710h1v1h-1zM97 711h2v1h-2zM489 711h2v1h-2zM831 711h1v1h-1zM99 712h1v1h-1zM491 712h3v1h-3zM829 712h2v1h-2zM100 713h1v1h-1zM494 713h2v1h-2zM827 713h2v1h-2zM957 713h2v1h-2zM101 714h2v1h-2zM544 714h8v1h-8zM582 714h2v1h-2zM826 714h1v1h-1zM953 714h4v1h-4zM1079 714h1v1h-1zM103 715h1v1h-1zM511 715h1v1h-1zM580 715h2v1h-2zM824 715h2v1h-2zM952 715h1v1h-1zM1080 715h1v1h-1zM104 716h1v1h-1zM578 716h2v1h-2zM823 716h1v1h-1zM1081 716h1v1h-1zM105 717h1v1h-1zM441 717h1v1h-1zM576 717h2v1h-2zM585 717h1v1h-1zM822 717h1v1h-1zM1077 717h1v1h-1zM1082 717h1v1h-1zM106 718h1v1h-1zM131 718h1v1h-1zM442 718h1v1h-1zM498 718h1v1h-1zM509 718h1v1h-1zM821 718h1v1h-1zM1076 718h1v1h-1zM108 721h1v1h-1zM423 721h1v1h-1zM444 721h1v1h-1zM500 721h1v1h-1zM555 721h1v1h-1zM621 721h1v1h-1zM625 721h1v1h-1zM637 721h2v1h-2zM818 721h1v1h-1zM1055 721h4v1h-4zM1064 721h2v1h-2zM1074 721h1v1h-1zM1085 721h1v1h-1zM109 722h1v1h-1zM424 722h1v1h-1zM445 722h1v1h-1zM506 722h1v1h-1zM620 722h1v1h-1zM626 722h1v1h-1zM636 722h1v1h-1zM817 722h1v1h-1zM1054 722h1v1h-1zM1066 722h1v1h-1zM1073 722h1v1h-1zM1086 722h1v1h-1zM110 723h1v1h-1zM505 723h1v1h-1zM589 723h1v1h-1zM627 723h2v1h-2zM635 723h1v1h-1zM816 723h1v1h-1zM1053 723h1v1h-1zM1067 723h2v1h-2zM1087 723h2v1h-2zM111 724h1v1h-1zM421 724h1v1h-1zM629 724h1v1h-1zM633 724h2v1h-2zM814 724h2v1h-2zM1051 724h2v1h-2zM1069 724h2v1h-2zM1089 724h2v1h-2zM114 729h1v1h-1zM560 729h1v1h-1zM606 729h5v1h-5zM116 732h1v1h-1zM563 732h1v1h-1zM934 732h5v1h-5zM119 737h1v1h-1zM410 737h1v1h-1zM455 737h2v1h-2zM121 734h1v1h-1zM414 734h1v1h-1zM453 734h1v1h-1zM462 734h1v1h-1zM565 734h1v1h-1zM929 734h2v1h-2zM123 731h1v1h-1zM451 731h1v1h-1zM562 731h1v1h-1zM939 731h5v1h-5zM125 728h1v1h-1zM449 728h1v1h-1zM559 728h1v1h-1zM603 728h3v1h-3zM611 728h5v1h-5zM127 725h1v1h-1zM426 725h1v1h-1zM447 725h1v1h-1zM618 725h1v1h-1zM630 725h1v1h-1zM632 725h1v1h-1zM812 725h2v1h-2zM1050 725h1v1h-1zM1071 725h1v1h-1zM1091 725h3v1h-3zM145 665h1v1h-1zM305 665h1v1h-1zM332 665h1v1h-1zM1012 665h1v1h-1zM1115 665h5v1h-5zM146 664h1v1h-1zM306 664h1v1h-1zM325 664h1v1h-1zM331 664h1v1h-1zM744 664h1v1h-1zM1120 664h1v1h-1zM148 661h1v1h-1zM309 661h1v1h-1zM327 661h1v1h-1zM748 661h1v1h-1zM754 661h2v1h-2zM978 661h1v1h-1zM1009 661h1v1h-1zM1124 661h1v1h-1zM149 660h1v1h-1zM271 660h1v1h-1zM310 660h1v1h-1zM749 660h2v1h-2zM752 660h2v1h-2zM979 660h2v1h-2zM1008 660h1v1h-1zM1125 660h2v1h-2zM151 657h1v1h-1zM276 657h2v1h-2zM696 657h1v1h-1zM859 657h1v1h-1zM983 657h1v1h-1zM153 654h1v1h-1zM249 654h2v1h-2zM699 654h1v1h-1zM863 654h1v1h-1zM1004 654h1v1h-1zM1152 654h1v1h-1zM154 653h1v1h-1zM251 653h3v1h-3zM700 653h1v1h-1zM864 653h1v1h-1zM1153 653h1v1h-1zM156 650h1v1h-1zM258 650h1v1h-1zM703 650h1v1h-1zM867 650h2v1h-2zM1157 650h1v1h-1zM157 649h1v1h-1zM166 649h1v1h-1zM259 649h2v1h-2zM704 649h1v1h-1zM719 649h4v1h-4zM731 649h5v1h-5zM869 649h1v1h-1zM988 649h1v1h-1zM1158 649h1v1h-1zM1163 649h5v1h-5zM159 646h2v1h-2zM708 646h1v1h-1zM714 646h1v1h-1zM997 646h3v1h-3zM161 647h2v1h-2zM263 647h1v1h-1zM707 647h1v1h-1zM715 647h2v1h-2zM163 648h3v1h-3zM261 648h2v1h-2zM705 648h2v1h-2zM717 648h2v1h-2zM723 648h8v1h-8zM870 648h1v1h-1zM1147 648h1v1h-1zM1159 648h4v1h-4zM179 674h1v1h-1zM1029 674h2v1h-2zM183 681h1v1h-1zM185 684h1v1h-1zM187 687h1v1h-1zM681 687h4v1h-4zM189 690h1v1h-1zM191 693h1v1h-1zM352 693h1v1h-1zM192 694h2v1h-2zM353 694h1v1h-1zM523 694h1v1h-1zM194 695h1v1h-1zM354 695h1v1h-1zM195 696h2v1h-2zM197 697h2v1h-2zM229 697h1v1h-1zM521 697h1v1h-1zM844 697h1v1h-1zM199 698h1v1h-1zM356 698h1v1h-1zM201 701h1v1h-1zM217 701h1v1h-1zM202 702h1v1h-1zM218 702h1v1h-1zM204 705h1v1h-1zM210 705h1v1h-1zM222 705h1v1h-1zM648 705h2v1h-2zM839 705h1v1h-1zM205 706h1v1h-1zM223 706h1v1h-1zM650 706h2v1h-2zM837 706h2v1h-2zM208 708h1v1h-1zM654 708h1v1h-1zM835 708h1v1h-1zM211 704h1v1h-1zM221 704h1v1h-1zM212 703h1v1h-1zM219 703h2v1h-2zM225 703h1v1h-1zM214 700h1v1h-1zM216 700h1v1h-1zM227 700h1v1h-1zM358 700h1v1h-1zM519 700h1v1h-1zM842 700h1v1h-1zM215 699h1v1h-1zM357 699h1v1h-1zM248 655h1v1h-1zM268 655h1v1h-1zM698 655h1v1h-1zM861 655h2v1h-2zM1151 655h1v1h-1zM254 652h2v1h-2zM266 652h1v1h-1zM701 652h1v1h-1zM865 652h1v1h-1zM986 652h1v1h-1zM1131 652h1v1h-1zM1154 652h1v1h-1zM256 651h2v1h-2zM702 651h1v1h-1zM866 651h1v1h-1zM1002 651h1v1h-1zM1155 651h2v1h-2zM272 659h2v1h-2zM311 659h1v1h-1zM751 659h1v1h-1zM856 659h1v1h-1zM981 659h1v1h-1zM1007 659h1v1h-1zM1127 659h1v1h-1zM274 658h2v1h-2zM857 658h2v1h-2zM982 658h1v1h-1zM278 656h2v1h-2zM697 656h1v1h-1zM860 656h1v1h-1zM288 672h1v1h-1zM339 672h1v1h-1zM882 672h1v1h-1zM1022 672h3v1h-3zM289 671h2v1h-2zM338 671h1v1h-1zM881 671h1v1h-1zM1020 671h2v1h-2zM1183 671h1v1h-1zM291 670h3v1h-3zM321 670h1v1h-1zM763 670h1v1h-1zM880 670h1v1h-1zM1018 670h2v1h-2zM1181 670h2v1h-2zM294 669h3v1h-3zM1016 669h2v1h-2zM1180 669h1v1h-1zM297 668h4v1h-4zM336 668h1v1h-1zM1015 668h1v1h-1zM1179 668h1v1h-1zM301 667h3v1h-3zM323 667h1v1h-1zM335 667h1v1h-1zM1014 667h1v1h-1zM1177 667h2v1h-2zM304 666h1v1h-1zM315 666h1v1h-1zM333 666h2v1h-2zM1013 666h1v1h-1zM1112 666h3v1h-3zM1176 666h1v1h-1zM307 663h1v1h-1zM329 663h2v1h-2zM745 663h2v1h-2zM758 663h2v1h-2zM976 663h1v1h-1zM1121 663h2v1h-2zM308 662h1v1h-1zM328 662h1v1h-1zM747 662h1v1h-1zM756 662h2v1h-2zM977 662h1v1h-1zM1010 662h1v1h-1zM1123 662h1v1h-1zM319 673h1v1h-1zM340 673h1v1h-1zM1025 673h4v1h-4zM342 676h1v1h-1zM885 676h1v1h-1zM343 677h1v1h-1zM886 677h1v1h-1zM351 692h1v1h-1zM376 745h2v1h-2zM394 745h1v1h-1zM791 745h1v1h-1zM378 746h1v1h-1zM792 746h1v1h-1zM379 747h2v1h-2zM793 747h1v1h-1zM381 748h2v1h-2zM392 748h1v1h-1zM794 748h1v1h-1zM383 749h9v1h-9zM795 749h1v1h-1zM395 744h1v1h-1zM790 744h1v1h-1zM396 743h1v1h-1zM789 743h1v1h-1zM921 743h1v1h-1zM398 740h1v1h-1zM403 740h5v1h-5zM785 740h1v1h-1zM399 739h4v1h-4zM408 739h1v1h-1zM784 739h1v1h-1zM924 739h1v1h-1zM409 738h1v1h-1zM925 738h1v1h-1zM411 736h2v1h-2zM457 736h2v1h-2zM413 735h1v1h-1zM459 735h3v1h-3zM566 735h1v1h-1zM927 735h2v1h-2zM415 733h1v1h-1zM564 733h1v1h-1zM931 733h3v1h-3zM417 730h1v1h-1zM430 730h1v1h-1zM561 730h1v1h-1zM419 727h1v1h-1zM428 727h1v1h-1zM601 727h2v1h-2zM616 727h1v1h-1zM808 727h2v1h-2zM1048 727h1v1h-1zM427 726h1v1h-1zM503 726h1v1h-1zM591 726h10v1h-10zM617 726h1v1h-1zM631 726h1v1h-1zM810 726h2v1h-2zM1049 726h1v1h-1zM1094 726h1v1h-1zM508 719h1v1h-1zM623 719h1v1h-1zM820 719h1v1h-1zM525 691h1v1h-1zM527 688h1v1h-1zM679 688h2v1h-2zM530 683h1v1h-1zM532 680h1v1h-1zM587 720h1v1h-1zM622 720h1v1h-1zM624 720h1v1h-1zM639 720h1v1h-1zM819 720h1v1h-1zM1059 720h5v1h-5zM1084 720h1v1h-1zM652 707h2v1h-2zM836 707h1v1h-1zM685 686h2v1h-2zM709 645h2v1h-2zM712 645h2v1h-2zM993 645h4v1h-4zM1135 645h1v1h-1zM711 644h1v1h-1zM991 644h2v1h-2zM1136 644h2v1h-2zM786 741h1v1h-1zM787 742h2v1h-2zM922 742h1v1h-1zM796 750h1v1h-1zM797 751h1v1h-1zM798 752h1v1h-1zM884 675h1v1h-1zM887 678h4v1h-4zM891 679h4v1h-4zM1138 643h2v1h-2zM1140 642h2v1h-2zM1142 641h2v1h-2z" fill="#e61ee6"/>
<rect x="119" y="253" width="1" height="4" fill="#fff"/><rect x="117" y="255" width="7" height="1" fill="#fff"/>
<rect x="327" y="64" width="1" height="4" fill="#fff"/><rect x="325" y="66" width="7" height="1" fill="#fff"/>
<rect x="807" y="434" width="1" height="4" fill="#fff"/><rect x="805" y="436" width="7" height="1" fill="#fff"/>
<rect x="1175" y="91" width="1" height="4" fill="#fff"/><rect x="1173" y="93" width="7" height="1" fill="#fff"/>
</g>
<g font-family="Liberation Sans, sans-serif">
<text x="232.8" y="14" textLength="60.8" lengthAdjust="spacingAndGlyphs" fill="#f0f0f0" font-size="12.5">BOLL(20,2)</text>
<text x="298.7" y="14" textLength="57.7" lengthAdjust="spacingAndGlyphs" fill="#f0f0f0" font-size="12.5">MID:64.19</text>
<text x="366.2" y="14" textLength="70.2" lengthAdjust="spacingAndGlyphs" fill="#d6d62a" font-size="12.5">UPPER:72.06</text>
<text x="445.6" y="14" textLength="75.4" lengthAdjust="spacingAndGlyphs" fill="#dc28dc" font-size="12.5">LOWER:56.32</text>
<text x="93" y="478" textLength="84.7" lengthAdjust="spacingAndGlyphs" fill="#f0f0f0" font-size="12.5">MACD(26,12,9)</text>
<text x="182.6" y="478" textLength="49.6" lengthAdjust="spacingAndGlyphs" fill="#f0f0f0" font-size="12.5">DIFF:2.37</text>
<text x="243" y="478" textLength="48.9" lengthAdjust="spacingAndGlyphs" fill="#d6d62a" font-size="12.5">DEA:1.13</text>
<text x="301.6" y="478" textLength="63.1" lengthAdjust="spacingAndGlyphs" fill="#dc28dc" font-size="12.5">MACD:2.48</text>
<text x="92.8" y="633" textLength="55.4" lengthAdjust="spacingAndGlyphs" fill="#f0f0f0" font-size="12.5">KDJ(9,3,3)</text>
<text x="154.3" y="633" textLength="39.7" lengthAdjust="spacingAndGlyphs" fill="#f0f0f0" font-size="12.5">K:81.27</text>
<text x="204.2" y="633" textLength="40.7" lengthAdjust="spacingAndGlyphs" fill="#d6d62a" font-size="12.5">D:82.80</text>
<text x="254.7" y="633" textLength="37.6" lengthAdjust="spacingAndGlyphs" fill="#dc28dc" font-size="12.5">J:78.23</text>
</g>
<text x="92.2" y="14.5" font-family="Liberation Sans, Noto Sans CJK SC, sans-serif" font-size="12" textLength="58.4" lengthAdjust="spacingAndGlyphs" fill="#f4f4f4">美原油连续</text>
<text x="151" y="14.5" font-family="Liberation Sans, Noto Sans CJK SC, sans-serif" font-size="12" fill="#f0a632">【日线】</text>
<g stroke="#f0a632" fill="none" stroke-width="0.85"><circle cx="205.3" cy="11.6" r="4.1"/><path d="M201.2 11.6h8.2M205.3 7.5v8.2"/></g>
<g shape-rendering="crispEdges"><rect x="219" y="2" width="11" height="13" fill="#8a8a84"/><rect x="218" y="1" width="11" height="13" fill="#00008c"/><rect x="219" y="2" width="9" height="11" fill="#fff"/></g>
<path d="M219 8.5l3.2-4 2.8 3.2 1.6-1.8h1.4" stroke="#f00" stroke-width="1" fill="none"/>
<path d="M219 11.5l3.2-4 2.8 3.2 1.6-1.8h1.4" stroke="#0000f0" stroke-width="1" fill="none"/>
<g shape-rendering="crispEdges" fill="none" stroke="#9c9c9c">
<rect x="1154.5" y="1.5" width="13" height="13"/>
<rect x="1170.5" y="1.5" width="13" height="13"/>
<rect x="1186.5" y="1.5" width="13" height="13"/>
<rect x="1202.5" y="1.5" width="13" height="13"/>
</g>
<g shape-rendering="crispEdges" fill="#9c9c9c">
<rect x="1160" y="3" width="2" height="3"/><rect x="1160" y="10" width="2" height="3"/><rect x="1156" y="7" width="3" height="2"/><rect x="1163" y="7" width="3" height="2"/><rect x="1160" y="7" width="2" height="2"/>
<rect x="1173" y="4" width="1" height="9"/><rect x="1172" y="11" width="10" height="1"/>
<rect x="1189" y="4" width="1" height="9"/><rect x="1188" y="11" width="10" height="1"/>
<rect x="1176" y="4" width="1" height="6"/>
<rect x="1204" y="3" width="1" height="10"/><rect x="1206" y="3" width="1" height="10"/><rect x="1204" y="3" width="3" height="1"/><rect x="1204" y="12" width="3" height="1"/><rect x="1205" y="7" width="6" height="1"/>
</g>
<g fill="#9c9c9c"><path d="M1173.5 2.5l-2 3h4zM1189.5 2.5l-2 3h4zM1182.5 11.5l-3-2v4zM1198.5 11.5l-3-2v4zM1172 11.5l2-1.5v3zM1188 11.5l2-1.5v3zM1177.5 7l3-3v6zM1192 3.5l5 3.5-5 3.5zM1213 7.5l-3-3v6z"/></g>
<g shape-rendering="crispEdges"><rect x="26" y="622" width="6" height="8" fill="#000"/><rect x="25" y="623" width="8" height="6" fill="#000"/>
<rect x="27" y="623" width="4" height="6" fill="#fff"/><rect x="26" y="624" width="6" height="4" fill="#fff"/>
<rect x="28" y="624" width="2" height="4" fill="#f00"/><rect x="27" y="625" width="4" height="2" fill="#f00"/>
<rect x="28" y="619" width="1" height="2" fill="#f00"/><rect x="28" y="631" width="1" height="2" fill="#f00"/><rect x="22" y="625" width="2" height="1" fill="#f00"/><rect x="34" y="625" width="2" height="1" fill="#f00"/><rect x="23" y="620" width="1" height="1" fill="#f00"/><rect x="24" y="621" width="1" height="1" fill="#f00"/><rect x="34" y="620" width="1" height="1" fill="#f00"/><rect x="33" y="621" width="1" height="1" fill="#f00"/><rect x="24" y="630" width="1" height="1" fill="#f00"/><rect x="23" y="631" width="1" height="1" fill="#f00"/><rect x="33" y="630" width="1" height="1" fill="#f00"/><rect x="34" y="631" width="1" height="1" fill="#f00"/></g>
<text x="35.5" y="770" font-family="Liberation Sans, Noto Sans CJK SC, sans-serif" font-size="11.8" font-weight="bold" fill="#f5b53c">日线</text>
<path d="M69 760.5l4.3 8.8h-8.6z" fill="#f5b53c"/>
<g font-family="Liberation Sans, sans-serif" font-size="12" font-weight="bold" fill="#b8b8b8">
<text x="257" y="767.3" textLength="44" lengthAdjust="spacingAndGlyphs">2025/01</text>
<text x="433" y="767.3" textLength="44" lengthAdjust="spacingAndGlyphs">2025/02</text>
<text x="593" y="767.3" textLength="44" lengthAdjust="spacingAndGlyphs">2025/03</text>
<text x="761" y="767.3" textLength="44" lengthAdjust="spacingAndGlyphs">2025/04</text>
<text x="929" y="767.3" textLength="44" lengthAdjust="spacingAndGlyphs">2025/05</text>
<text x="1105" y="767.3" textLength="44" lengthAdjust="spacingAndGlyphs">2025/06</text>
</g>
<g shape-rendering="crispEdges">
<rect x="59" y="775" width="1" height="15" fill="#262626"/>
<rect x="60" y="775" width="38.5" height="15" fill="#3d3f4b"/>
<rect x="99" y="775" width="1" height="15" fill="#262626"/>
<rect x="157" y="775" width="1" height="15" fill="#262626"/>
<rect x="197" y="775" width="1" height="15" fill="#262626"/>
<rect x="237" y="775" width="1" height="15" fill="#262626"/>
<rect x="277" y="775" width="1" height="15" fill="#262626"/>
<rect x="278" y="775" width="63" height="15" fill="#3d3f4b"/>
<rect x="341" y="775" width="1" height="15" fill="#262626"/>
<rect x="404" y="775" width="1" height="15" fill="#262626"/>
</g>
<text x="28.2" y="787" font-family="Liberation Sans, Noto Sans CJK SC, sans-serif" font-size="12" fill="#c8c8c8">指标</text>
<text x="67.8" y="787" font-family="Liberation Sans, Noto Sans CJK SC, sans-serif" font-size="12" fill="#ffffff">模板</text>
<text x="107.8" y="786.5" font-family="Liberation Mono, monospace" font-size="10.5" textLength="17" lengthAdjust="spacingAndGlyphs" fill="#f0b43c">VIP</text>
<text x="125.7" y="787" font-family="Liberation Sans, Noto Sans CJK SC, sans-serif" font-size="12" fill="#f0b43c">指标</text>
<text x="166" y="787" font-family="Liberation Sans, Noto Sans CJK SC, sans-serif" font-size="12" fill="#c8c8c8">标准</text>
<text x="206" y="786.5" font-family="Liberation Mono, monospace" font-size="10.5" textLength="23" lengthAdjust="spacingAndGlyphs" fill="#c8c8c8">MACD</text>
<text x="246" y="786.5" font-family="Liberation Mono, monospace" font-size="10.5" textLength="23" lengthAdjust="spacingAndGlyphs" fill="#c8c8c8">BOLL</text>
<text x="286.2" y="787" font-family="Liberation Sans, Noto Sans CJK SC, sans-serif" font-size="12" textLength="47.6" lengthAdjust="spacingAndGlyphs" fill="#ffffff">另存模板</text>
<text x="349.8" y="787" font-family="Liberation Sans, Noto Sans CJK SC, sans-serif" font-size="12" textLength="47.6" lengthAdjust="spacingAndGlyphs" fill="#c8c8c8">管理模板</text>
<text x="1158.6" y="764.2" font-family="Liberation Sans, sans-serif" font-size="30.6" letter-spacing="1.9" fill="#e6ebf5">FX678</text></svg>
</body></html>
